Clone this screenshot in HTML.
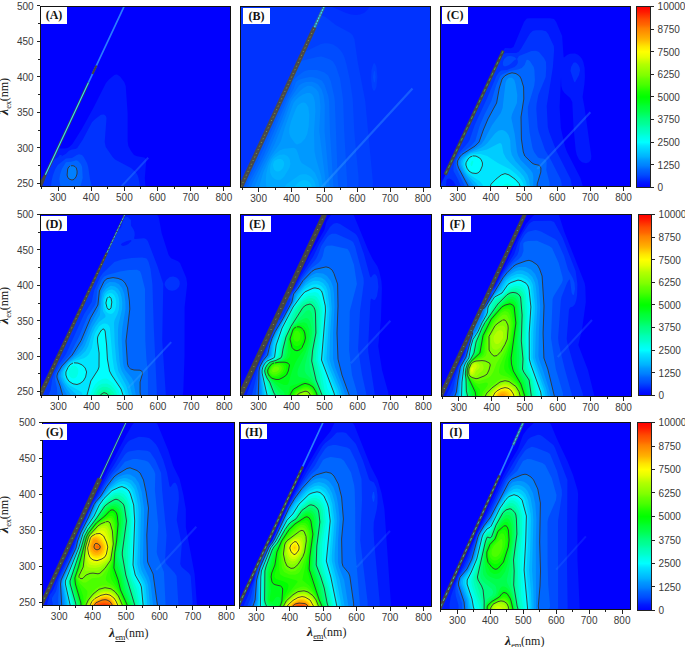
<!DOCTYPE html><html><head><meta charset="utf-8"><style>
*{margin:0;padding:0;box-sizing:border-box}
html,body{width:685px;height:647px;background:#fff;overflow:hidden}
body{position:relative;font-family:"Liberation Sans",sans-serif}
.t{position:absolute;font-size:10px;line-height:10px;color:#3a3a3a;white-space:nowrap}
.ty{position:absolute;font-size:10px;line-height:10px;color:#3a3a3a;white-space:nowrap;text-align:right;width:30px}
.lb{position:absolute;background:#fff;font-family:"Liberation Serif",serif;font-weight:bold;font-size:12px;line-height:16px;text-align:center;color:#111}
.ax{position:absolute;font-family:"Liberation Serif",serif;font-size:12px;line-height:12px;color:#222;white-space:nowrap}
.ax i{font-size:13.5px;font-weight:bold;margin-right:0.3px}
.ax sub{font-size:8.5px;vertical-align:-3px;text-decoration:underline;letter-spacing:-0.3px}
svg{position:absolute;overflow:visible}
</style></head><body>
<svg style="left:40px;top:6px;overflow:hidden" width="191" height="181"><rect x="0" y="0" width="191.0" height="181.0" fill="#0000ff"/><path d="M75 68.7l2-.3 3 2.2 4.2 5.4 1.5 4 1.9 27 0 28 .7 5 2.7 5.1 3 3.8 3 1.4 7 1.1 1.2 .6 1.1 2-1.5 18 .8 10-106 0 1-3 .9-1 .1-2 2.9-5 0-1 1-1 0-1 1-1 0-1 1-1 0-1 1-1 0-1 1-1 0-2 1-1 0-1 1-1 0-1 1-1 0-1 1-1 .1-1 1-1 1.1-3 1-1 .1-2 1.2-1.6 7 .1 2.6-.5 1.7-1 3.1-3 9.6-15.3 11.9-21.7 12.1-23.9 3-3.6 5.4-4.5z" fill="#0019ff"/><path d="M61 108.8l3-.3 1.8 1.5 .7 2-1.8 24 1 5 6.9 10 2.4 2.6 16 8.5 5 4.5 1.5 2.4 1 3 1.1 6 .1 4-97.4 0 3.9-14 1.8-3 0-1 .9-1 .1-1 .9-1 .1-1.9 2-3.1 3-3 3.3-2 1.4-2 1.9 0 .4 2 .1-1 3.9-2.2 3-3 3-1.3 3.5-.5 1.8-1 5.3-8 9.4-17.7 3-3 5.6-4.3z" fill="#0033ff"/><path d="M37 148.9l2-.6 3 .8 1.7 1.9 3.3 6 1.2 4 1.8 12.2 2.3 8.8-41.5 0 .8-7 1.4-6 2.3-6 2.5-4 8.2-6.5 6-.6 4.9-2.9z" fill="#004cff"/><path d="M34 154.9l2-.7 2 .8 2.9 3 1.2 3 .6 11-1.9 7-1.8 3-17.5 0-1.6-4-.5-5 .8-5 1.7-5 4.1-6.7 5-.5 2.8-.8z" fill="#0066ff"/><path d="M31 159.8l2-.1 2 .8 1.3 1.5 .8 3-.1 3-1 3-2 2.4-2 .6-3-1-1.4-2-.5-2 .6-6 1-2 1.4-1z" fill="#0080ff"/><path d="M31 159.8l2-.1 2 .8 1.3 1.5 .8 3-.1 3-1 3-2 2.4-2 .6-3-1-1.4-2-.5-2 .6-6 1-2 1.4-1" fill="none" stroke="#333" stroke-width="0.9"/><line x1="81.7" y1="180.1" x2="108.2" y2="151.7" stroke="#40a8ff" stroke-width="2.0" stroke-opacity="0.28"/><path d="M1.7 181.7 L6.6 169.3 L4.2 168.2 L-2.2 179.9 Z" fill="#444444"/><path d="M6.6 169.3 L49.5 77.0 L47.5 76.0 L4.2 168.2 Z" fill="#444444"/><path d="M49.3 76.8 L85.1 0.2 L83.6 -0.5 L47.8 76.1 Z" fill="#2a7dff"/><path d="M43.5 89.7 L47.4 81.2 L45.6 80.3 L41.6 88.8 Z" fill="#444444"/><path d="M53.4 68.4 L57.4 59.9 L55.6 59.0 L51.6 67.5 Z" fill="#444444"/><line x1="5.4" y1="168.7" x2="48.5" y2="76.5" stroke="#30e0ff" stroke-width="1.1" stroke-dasharray="none"/></svg>
<svg style="left:40px;top:6px" width="191" height="181"><rect x="0.5" y="0.5" width="190" height="180" fill="none" stroke="#111" stroke-width="1"/><path d="M1.5 181v2M18.5 181v4M34.5 181v2M51.5 181v4M67.5 181v2M84.5 181v4M100.5 181v2M117.5 181v4M134.5 181v2M150.5 181v4M167.5 181v2M183.5 181v4M0 177.5h-3M0 159.5h-2M0 141.5h-3M0 124.5h-2M0 106.5h-3M0 88.5h-2M0 70.5h-3M0 53.5h-2M0 35.5h-3M0 17.5h-2M0 -0.5h-3" stroke="#222" stroke-width="1" fill="none"/></svg>
<div class="lb" style="left:41px;top:7px;width:26px;height:17px">(A)</div>
<div class="t" style="left:58px;top:193.4px;width:20px;margin-left:-10px;text-align:center">300</div><div class="t" style="left:91.18px;top:193.4px;width:20px;margin-left:-10px;text-align:center">400</div><div class="t" style="left:124.36px;top:193.4px;width:20px;margin-left:-10px;text-align:center">500</div><div class="t" style="left:157.54px;top:193.4px;width:20px;margin-left:-10px;text-align:center">600</div><div class="t" style="left:190.72px;top:193.4px;width:20px;margin-left:-10px;text-align:center">700</div><div class="t" style="left:223.9px;top:193.4px;width:20px;margin-left:-10px;text-align:center">800</div><div class="ty" style="left:3.6px;top:179.04px">250</div><div class="ty" style="left:3.6px;top:143.56px">300</div><div class="ty" style="left:3.6px;top:108.09px">350</div><div class="ty" style="left:3.6px;top:72.61px">400</div><div class="ty" style="left:3.6px;top:37.13px">450</div><div class="ty" style="left:3.6px;top:1.66px">500</div>
<svg style="left:240px;top:6px;overflow:hidden" width="191" height="182"><rect x="0" y="0" width="191.0" height="182.0" fill="#0000ff"/><path d="M0 -1l192 0 0 184-193 0 0-184z" fill="#000dff"/><path d="M0 -1l192 0 0 184-193 0 0-184z" fill="#0019ff"/><path d="M0 -1l192 0 0 184-193 0 0-184z" fill="#0026ff"/><path d="M0 -1l87.8 0 18.2 8.1 5 1.4 5 .5 4-.4 4-1.7 3.3-2.9 3.6-5 61.1 0 0 184-193 0 0-184z" fill="#0033ff"/><path d="M80 10l3-.1 2.6 1.1 10 8 14.4 7.7 2.5 2.3 1.9 4 3.3 23 7.5 39 7.7 81-.3 7-133.1 0 2.8-5 0-1 1-1 0-1 1-1 0-1 1-1 0-2 3-5 0-1 1-1 0-1 1-1 0-1 .9-1 .1-2 3-5 0-1 .9-1 .1-1 .9-1 .1-1 .9-1 .1-2 1-1 0-1 1-1 0-1 1-1 0-1 2.9-5 .1-2 1-1 0-1 2-3 0-1 2.9-5 .1-2 1-1 0-1 1-1 1-3 2-3 0-2 1-1 0-1 1-1 0-1 1-1 0-1 3-5 0-2 3-5 0-1 1-1 0-1 1-1 0-1 1-1 0-2 1-1 0-1 .9-1 .1-1 1.9-3 0-1 1-1 0-1 1-1 .1-2 2.9-5 0-1 1-1 0-1 1-1 0-1 1-1 .1-2 1-1 0-1 1-1 0-1 1-1 0-1 1-1 1.1-3 1-1 .1-2 1.1-1 0-1 1-1 .1-1 1-1 .1-1 3-5 .1-2 2.9-5 0-1 1-1 0-1 1-1 0-1 1-1 0-2 1-1 0-1 1-1 1.2-3zM134 57.3l1 .3 1.4 3.4 1 10-1 10-1.4 3.3-1 .5-1-.9-1-2.9-.9-8 .4-9 1.8-6z" fill="#0040ff"/><path d="M81 38l4-.8 4 .2 4 1.2 4 2.3 3 2.8 2.4 3.3 1.9 4 1.8 6 3.6 16 3 20 1.6 33 4.3 46 0 6-.7 5-117 0 2-6 2.8-5 .1-2 3.9-7 0-1 1-1 0-1 1-1 0-2 4-7 0-1 1-1 0-1 1-1 0-2 1-1 0-1 1-1 0-1 4-7 0-2 1-1 2-5 3-5 0-2 1-1 2-5 2-3 .1-2 .9-1 .1-1 .9-1 .1-1 3.9-7 .1-2 3.9-7 0-1 1-1 0-1 1-1 0-2 1-1 0-1 1-1 1.9-5 1-1 0-1 1-1 .1-2 2.9-5 0-1 1-1 0-1 1-1 0-1 1-1 .1-2 1-1 0-1 1-1 1.2-3 1-1 .1-1 1-.7 17-8.3zM134 64.9l1 .6 .6 5.5-.6 4.8-1 .7-1.1-5.5 1.1-6z" fill="#004cff"/><path d="M78 50.9l3-.3 3 .6 6 2.4 3 1.8 3 5.1 4 11.9 3.1 21.6 1.1 31 3 53-.2 5-104.3 0 5.3-13.7 39.3-85.3 2.9-9 4.5-8 3.3-8.4 2-2.3 3-1.7 14.3-3.6z" fill="#0059ff"/><path d="M69 63.9l8 .2 7 2.1 4 3.1 2.7 5.7 3.4 15 .7 5 3 80 .9 8-94 0 2.2-6 13.1-26.2 25.6-57.8 5.1-10 2.3-8 3-3.6 6-4.6 3-1.8 3.5-1z" fill="#0066ff"/><path d="M65 72l5-1 3 .2 5 1.5 4 2.1 2.6 4.2 3.7 11 .8 5 .8 30 3.7 58-86.4 0 2.7-7 13.6-26 23.4-55 6.6-12 2.5-7 2.3-2 6.7-2z" fill="#0073ff"/><path d="M66 76l6-.3 3 1 3 1.8 3.4 4.5 2.3 7 1.1 9-.3 26 5.4 58-79.8 0 2.3-6 16.5-33 12.8-30 7.8-20 9.5-14.4 3-2.2 3.9-1.4z" fill="#0080ff"/><path d="M68 79.8l4 .4 4 2.8 2.3 3 1.1 4 1.1 11-1.3 24 7.3 58-72.8 0 7.8-19 13.2-26 9.7-24 6.9-19 2.7-3.8 6-6.3 3.6-2.9 3.5-2z" fill="#008cff"/><path d="M67 86.9l3 .1 2 1.2 1.7 2.8 1.2 5 .5 9-1.4 21 .5 19 1.3 7 5.2 17.4 2.2 13.6-64.7 0 4.6-16 4.6-11 3.3-6.1 7.7-10.9 2.2-4 4.1-14 8.5-24 2.2-3 3.3-2.9 4-2.5 3.8-1.6z" fill="#0099ff"/><path d="M62 96.8l2-.2 2 .8 2.3 3.6 1 8-.6 11-1.5 8-2.2 4.7-4 4.2-4 1.6-2-1.2-4.5-6.3-1.3-4 0-4 1.8-7.4 5-13 2-3.3 3.2-2.3zM52 141.9l2-.1 2 1.2 1.5 3 2.5 8.1 1.7 2.9 9.3 5.7 4 4.4 3.1 6.9 1.8 9-53.3 0-.8-8 .4-7 1.9-8 2.9-6.7 4-5 5-4 4-1.5 7.5-.8z" fill="#00a6ff"/><path d="M40 148.7l4-.3 3.5 1.6 2.2 3 .7 5-1 4-5.4 8.8-3 2.6-3 .6-3-.7-3-2.5-1.7-3.8-.3-4 .8-5 1.8-4 2.4-2.6 4.1-2.4zM60 168.8l3-.6 3 .1 3 1.1 2 1.3 2 2.2 1.7 3.1 1.6 7-33 0 3.4-5 12.9-9z" fill="#00b2ff"/><path d="M38 153l2.8 0 1.9 1 1.2 2 .3 2-.7 3-1.2 2-2.3 2-2 .6-2-.3-2-1.8-1.2-4.5 1.5-4 3.6-2zM64 174l3 .4 2.4 1.6 2 3 .9 4-19.1 0 2.9-4 2.9-2.9 2-1.3 2.9-.8z" fill="#00bfff"/><path d="M64 180.6l1-.2 .7 .6 .6 2-4.3 0 1.4-2z" fill="#00ccff"/><line x1="81.1" y1="181.8" x2="172.5" y2="82.6" stroke="#40a8ff" stroke-width="2.2" stroke-opacity="0.35"/><path d="M2.6 182.7 L76.4 22.1 L72.6 20.4 L-1.6 180.8 Z" fill="#4a4a4a"/><path d="M76.0 21.9 L85.6 0.4 L83.1 -0.7 L73.1 20.6 Z" fill="#3a6a8a"/><line x1="1.2" y1="180.4" x2="74.5" y2="21.3" stroke="#9ccf3c" stroke-width="0.8" stroke-dasharray="0.8 3.2"/><line x1="74.5" y1="21.3" x2="84.4" y2="-0.1" stroke="#30e0ff" stroke-width="1.2" stroke-dasharray="2 1"/></svg>
<svg style="left:240px;top:6px" width="191" height="182"><rect x="0.5" y="0.5" width="190" height="181" fill="none" stroke="#111" stroke-width="1"/><path d="M2.5 182v2M18.5 182v4M35.5 182v2M51.5 182v4M67.5 182v2M84.5 182v4M100.5 182v2M117.5 182v4M133.5 182v2M150.5 182v4M166.5 182v2M183.5 182v4" stroke="#222" stroke-width="1" fill="none"/></svg>
<div class="lb" style="left:242.9px;top:7.7px;width:27px;height:15.9px">(B)</div>
<div class="t" style="left:258.61px;top:194.4px;width:20px;margin-left:-10px;text-align:center">300</div><div class="t" style="left:291.49px;top:194.4px;width:20px;margin-left:-10px;text-align:center">400</div><div class="t" style="left:324.37px;top:194.4px;width:20px;margin-left:-10px;text-align:center">500</div><div class="t" style="left:357.25px;top:194.4px;width:20px;margin-left:-10px;text-align:center">600</div><div class="t" style="left:390.13px;top:194.4px;width:20px;margin-left:-10px;text-align:center">700</div><div class="t" style="left:423.01px;top:194.4px;width:20px;margin-left:-10px;text-align:center">800</div>
<svg style="left:440px;top:6px;overflow:hidden" width="191" height="181"><rect x="0" y="0" width="191.0" height="181.0" fill="#0000ff"/><path d="M87 12.6l3-.4 20 0 4 .9 2.2 2.9 5.9 14 1.5 21 .4 .5 3.1-2.5 2.9-1.3 5-.1 3 1.2 2 1.6 2 2.6 1.3 3 1.3 6 .3 9-.5 7-1.8 13 2 11 6.7 48-.3 3.6-2 2.6-3 1-4-.9-3-2.8-2.2-4.5-1.1-5-2.2-23-1.2-25-2.1-4-5.7-5-2.1-3-1.1-4-.3-9-1.4 30 1.2 21 4.2 18.8 2 5.2 13.4 26 2.9 10-143.9 0 0-2 1-1 0-1 1-1 1-3 1.1-1 0-1 3-5 0-2 1-1 0-1 1-1 .1-1 1-1 0-1 4-7 .1-2 3.9-7 0-1 .9-1 .1-1 .9-1 0-1 1-1 0-2 3-5 0-1 1-1 0-1 1-1 0-1 1-1 0-1 1-1 0-2 1-1 0-1 1-1 0-1 1-1 0-1 1-1 0-1 3-5 0-2 3-5 0-1 1-1 0-1 1-1 0-1 1-1 0-1 1-1 0-2 1-1 0-1 1-1 0-1 1-1 0-1 1-1 0-1 3-5 0-2 3-5 1-3 1-1 0-1 1-1 0-1 1-1 0-2 2-3 0-1 1-1 1-3 3.1-5 .1-2 2.3-3 6 .3 2.5-1.3 10.5-25 2.3-3z" fill="#0019ff"/><path d="M93 24.8l3-.5 6-.1 4 1.1 2.2 2.7 5.6 12 .3 4-1.2 17-6.2 39 1.1 21 1.3 5 7.3 19 14.2 28 1.7 9-115.9 0-1.4-4-1.9-3-2.1-1.7-2-.7-1.9 .4-.6 1-.7 8-6 0 0-2 1-1 0-1 1-1 0-1 1.1-1 0-1 1-1 0-1 1-1 .1-1 1.9-3 .1-1.7 5-7.7 6.7-14.6 3.3-10 2.9-5 .1-1 .9-1 .1-1 .9-1 .1-1 .9-1 .1-2 1-1 0-1 1-1 0-1 1-1 0-1 3.9-7 .1-1.8 3-5.2 0-1 1-1 0-1 .9-1 .1-1 .9-1 .1-1 .9-1 .1-1.6 7-13.4 4.1-10 .9-1 0-1 1.9-3 .1-2 1-1 0-1 1-1 0-1 1-1 2-5 2-1.8 3-1.3 10 .1 2.4-1 2.5-3 9.1-15.4 2.6-2.6zM134 56.4l2 .1 2 2 1.4 2.5 .7 3-1.1 5-4 7.6-1-1-3.5-10.6 .6-4 2.2-4z" fill="#0033ff"/><path d="M92 44.9l4-.1 3 1.3 5 5.8 2 4.1 .2 6-.5 9-7.4 18-1.7 9-.3 5 1.3 18 1.1 5 6.3 18 5.4 9 10.1 20 1 4 .4 5-100.1 0-3.8-8.7-4.5-8.3 0-4 1.2-6 4.3-7.9 8.8-10.1 1.8-3 5.1-15 12.3-26.6 9.4-22.4 2.6-3.8 2-1.6 6-.6 7.6-3 2.1-2 1.1-2 .1-2-.8-2 1.9-3 12.5-5zM67 50.6l2-.5 3 .1 2.4 .8 2.2 2-2.6 1.4-2.4 2.6-2.6 1.9-3 1.3-2 .1-1-1.3-.1-3 1.3-3 2.1-2z" fill="#004cff"/><path d="M87 53.8l1.3 .2 1.7 1.2 3.7 5.8 .7 3 .5 10-.7 6-6.3 21 0 6 1.6 19 3 16 1.6 4 3.9 5.4 2 .9 4 .5 1.7 1.2 1 2-.4 8 3.3 13-.1 2-1.1 3-82.7 0-9-19-1-5 .7-4 4.6-6.7 9.9-7.3 4.4-5 4.3-15 4.7-11 7.1-14 4.9-16 3.9-9 1.8-1.6 8-3.5 8-1.4 3.8-1.5 2.8-3 2-5z" fill="#0066ff"/><path d="M71 66.9l2-.1 3 .8 3.6 2.4 1.6 3 2.1 7 .7 5-.2 8-2.8 18 0 17 .5 6 1.8 12 1.5 4 7.2 7 2 1.1 5 1.2 1 .8 .9 1.9-.1 4-3.6 12-.1 4-67.9 0-10.6-20-1.3-4 .2-3 2.2-4 2.3-2.6 13.1-8.4 4-4 4.2-12 4.7-11.1 8.6-15.9 2.7-15 2.8-9 2.5-3 5.8-3z" fill="#0080ff"/><path d="M69 71.8l3-.1 2.3 2.3 1.2 4 1.8 11-.4 8-4.8 11-.8 4 3.4 16 2.3 18 1.3 4 2.4 4 9.8 10 2.1 3 .7 4-.1 11-60.7 0-6.5-9.5-4.3-7.5-2.5-6-.1-4 1.9-3.5 2.6-2.5 14-8 3.9-3 2.8-4 7.7-14.8 8.8-12.2 1.8-5 2.9-25 1.1-3 2.1-2z" fill="#0099ff"/><path d="M59 124.6l3-.5 2 .5 2.2 1.4 2.3 3 1.7 5 .5 10 1.2 5 3.5 6 9.2 10 2.9 4 1.7 5 .9 8-54.1 0-9-11.2-3.2-4.8-3.2-8 .2-3 1.7-3 6.5-5 11.8-5 3.3-2 3.3-3 7.6-9.6 3.1-2.4z" fill="#00b2ff"/><path d="M58 137.7l2-.6 1 .3 .9 1.6 1.5 8 2.5 5 3.4 4 10.7 10.2 3.9 4.8 2.2 5 1.1 6-47.4 0-3.8-5-7-6.6-3-3.5-2.2-3.9-1.6-5 .8-3.9 2.5-3.1 5.5-3.7 16-3.9 10.5-5.4z" fill="#00ccff"/><path d="M34 147.9l6.4 .1 6.8 2 10.6 7 12.2 6.2 6 4.8 4.7 5 2.3 4 1.2 5-40.1 0-2-4-2.6-3-8.5-5.5-3-2.6-2.1-2.9-1.7-4-.2-3.5 1.7-3.5 3.3-3.2 4.3-1.8z" fill="#00e5ff"/><path d="M33 149.9l3 .2 3.7 1.9 1.6 2 1.2 3-.2 3-2.2 5-2.1 1.9-2 .6-4-.5-3-1.9-2-2.9-1.1-3.2 .1-2.2 2.1-3.8 1.9-1.9 2.6-1.1zM64 167.7l2 0 2 .7 7 4.7 4 4.3 1.8 4.6-30.9 0 .6-3 1.5-2 6-5.7 5.1-3.3z" fill="#00ffff"/><path d="M32 154.8l1.2 .2 .1 1-1.2 4-1.1 .1-.6-2.1 1.3-3zM65 177.9l2-.4 3 .5 3 1.9 1.8 2.1-15.1 0 5-4z" fill="#00ffe5"/><path d="M29.2 182l-10.6-20-1.3-4 .2-3 2.2-4 2.3-2.6 13.1-8.4 4-4 4.2-12 4.7-11.1 8.6-15.9 2.7-15 2.8-9 2.5-3 3.4-2 4-1.2 4 .8 3.6 2.4 1.6 3 2.4 8 .2 12-2.8 18 .4 22 1.9 13 1.5 4 7.2 7 2 1.1 5 1.2 1 .8 .9 1.9-.1 4-3.6 12-.1 4M49.9 182l1.1-3.8 5-5.1 5.2-4.1 3.8-1.4 4 1.3 6 4.2 4 4.3 1.8 4.6M33 149.9l3 .2 3.7 1.9 1.6 2 1.2 3-.2 3-2.2 5-2.1 1.9-2 .6-4-.5-3-1.9-2-2.9-1.1-3.2 .1-2.2 2.1-3.8 1.9-1.9 2.6-1.1" fill="none" stroke="#333" stroke-width="0.9"/><line x1="97.3" y1="163.0" x2="150.4" y2="106.3" stroke="#40a8ff" stroke-width="2.0" stroke-opacity="0.30"/><path d="M6.8 169.5 L64.6 45.2 L61.8 43.9 L3.6 168.0 Z" fill="#444444"/><line x1="5.9" y1="167.3" x2="62.9" y2="45.3" stroke="#3cc85a" stroke-width="0.7" stroke-dasharray="3 3"/></svg>
<svg style="left:440px;top:6px" width="191" height="181"><rect x="0.5" y="0.5" width="190" height="180" fill="none" stroke="#111" stroke-width="1"/><path d="M1.5 181v2M17.5 181v4M34.5 181v2M50.5 181v4M67.5 181v2M84.5 181v4M100.5 181v2M117.5 181v4M133.5 181v2M150.5 181v4M166.5 181v2M183.5 181v4" stroke="#222" stroke-width="1" fill="none"/></svg>
<div class="lb" style="left:442px;top:7.4px;width:26.2px;height:16.2px">(C)</div>
<div class="t" style="left:457.8px;top:193.4px;width:20px;margin-left:-10px;text-align:center">300</div><div class="t" style="left:490.94px;top:193.4px;width:20px;margin-left:-10px;text-align:center">400</div><div class="t" style="left:524.08px;top:193.4px;width:20px;margin-left:-10px;text-align:center">500</div><div class="t" style="left:557.22px;top:193.4px;width:20px;margin-left:-10px;text-align:center">600</div><div class="t" style="left:590.37px;top:193.4px;width:20px;margin-left:-10px;text-align:center">700</div><div class="t" style="left:623.51px;top:193.4px;width:20px;margin-left:-10px;text-align:center">800</div>
<svg style="left:40px;top:214px;overflow:hidden" width="191" height="182"><rect x="0" y="0" width="191.0" height="182.0" fill="#0000ff"/><path d="M85 -.1l2-.6 7 1.1 21 0 2 .6 1 .8 .9 2.2 2.7 15 7 22 2.4 3.2 7 3.1 2 1.8 6.3 14.9 .9 6-2.6 23-.1 49-1.2 35-.8 6-143 0 0-1 1-1 1-3 3-5 0-2 1-1 .1-1 .9-1 .1-1 .9-1 .1-1 4-7 .1-2 3.9-7 0-1 1-1 0-1 .9-1 .1-1 .9-1 .1-2 2.9-5 0-1 1-1 0-1 1-1 0-1 1-1 0-1 1-1 0-1 1-1 0-2 3-5 0-1 1-1 0-1 1-1 0-1 1-1 0-1 1-1 0-2 1-1 1-3 1-1 0-1 1-1 1-3 1-1 0-1 1-1 0-2 1-1 0-1 1-1 0-1 1-1 0-1 1-1 0-1 1-1 0-1 1-1 1-3 1-1 0-2 1-1 0-1 1-1 0-1 1-1 2-5 1-1 0-1 1-1 0-2 3-5 0-1 1-1 0-1 1-1 0-1 1-1 0-1 .9-1 .1-2 2.9-5 0-1 1-1 0-1 1-1 0-1 1-1 0-1 1-1 0-1 1-1 0-2 1-1 0-1 1-1 0-1 1-1 0-1 1-1 0-1 1-1 1.1-3 1-1 .1-2 2.1-3 1.9-5 1.9-3 .1-1 1-1 .3-2z" fill="#0019ff"/><path d="M86 2.7l2 .3 2.9 3 .1 5.7 2.3 3.3 1.2 3 .2 3-.7 3.4 1 .5 9-.7 2 .7 1.8 2.1 9.6 25 5.9 18-1.1 56 3.8 57-126.1 0 2.1-5 .9-1 .1-1 .9-1 .1-1 1-1 0-.9 5-8.7 5-10.4 8.1-20 2.8-5 .1-1 .9-1 .1-1.7 3-5.3 0-1 1-1 0-1 .9-1 .1-1 .9-1 .1-1 .9-1 .1-1.7 3-5.3 0-1 3.9-7 .1-2 1-1 0-1 .9-1 .1-1 .9-1 .1-1 .9-1 .1-1 .9-1 .1-1 1-1 0-1 1-1 6-12.5 5-12.5 2.9-5 0-1 1-1 0-2 3-5 0-1 1-1 0-1 1-1 0-1 .9-1 .1-1 .9-1 0-1 1-1 .1-2 .9-1 .1-1 1-1 0-1 1-1 0-1 1-1 0-1 1-1 1.1-3 4-4.5 2.9-8.5 1.6-2zM86.9 27l-4.6 2-1.1 1-.2 1 2 .9 3-.6 2.3-1.3 3.2-3-.5-1-4 1zM130 62.9l3-.4 3 .8 2 1.4 1.5 2.3 .3 3-.8 2.7-2 2.4-2 1.2-3 .5-3.4-.8-2.4-2-1.6-3 .1-2 1.5-3 3.6-3z" fill="#0033ff"/><path d="M92 44l10-.5 4 .8 1 .8 1.6 2.9 1.9 7 1.9 15 1.4 44 3 63-.1 6-109.2 0 3.2-7 1.4-10 2.2-7 4.2-8 7.6-11 18.1-40 7.5-12 2.6-12 5.9-13 2.8-3.9 11.4-11.1 7.6-2.5 9.7-1.5z" fill="#004cff"/><path d="M90 56l7-.2 3 1.5 1.2 2.7 3.8 15 .3 51 1.1 19 1.5 13 .1 25-90.7 0-.3-9-2-9 .6-5 4.4-8 10.2-12 8.8-17.3 8.7-20.7 7.4-11 1.2-4 .9-11 4.3-10 2.5-3.2 4-2.1 12-3.1 9.2-1.6z" fill="#0066ff"/><path d="M70 63.9l5-.1 7 2.1 3.1 3.1 2.5 5 1.8 13 .4 8-3.8 32 1.5 23 1 3 2.2 2 3.3 1 6 .2 1.7 .8 .7 1 0 2-2.3 8 0 10 .5 5-77.5 0-3-11-3-8-.2-2 .8-3 4.2-7 10.3-11 8.1-13 10.2-24 7.4-13 .6-3 .6-9 .9-3.5 5-9.5 4.4-2z" fill="#0080ff"/><path d="M70 67.9l5 .3 4 2 3.1 3.8 2.2 6 1.1 8 .1 7-3.2 19-.7 10 1.4 25 .8 4 1.3 3 6.7 8 1.5 3 2.8 16-67.9 0-3.2-5.6-5.6-12.4-.6-3 .6-3 1.9-4 2.2-3 3.5-4.1 8.6-7.9 7-10 8.4-20 7-13.3 1.7-5.7 1-10 1.1-4 4.2-6.7 3.6-2.3z" fill="#0099ff"/><path d="M71 71.8l4 .7 3 2.2 2.1 3.3 1.5 5 .7 6-.2 6-3.5 15-.6 6 .1 13 1.4 18 .9 6 1.4 4 7.6 13 3.2 13-59.6 0-6-7.6-4.9-8.4-1.5-5 .6-4 2.2-4 3.9-5 11.3-9 3.6-4 2.6-4 7.6-19 7.5-12 1.8-17 1.3-5 3-4.3 4.1-2.7z" fill="#00b2ff"/><path d="M69 76l3-.5 3 1.3 2.5 3.2 1.3 4 .5 5-.4 6-1.4 5-2.9 6-.6 3 .7 20 1.5 17 2.1 11 8 15 3.1 11-51.5 0-2.1-3-7.8-7.2-3-4-2.5-5.8 .2-5 2.1-4 4.2-5.5 11.3-6.5 5.2-5 2.8-5 3.7-12 3.3-7 3.7-5 6.5-5-.1-2-2-3-.6-2 0-10 1.8-6 1.5-2 2.8-2z" fill="#00ccff"/><path d="M70 78.9l2 .4 2.1 1.7 1.4 3 .7 4-.2 4.3-1 3.9-1.9 2.8-2.1 .9-3-.7-2-1.7-1.3-2.5-.7-4 0-3.4 1-4.6 2-2.8 2.7-1.2zM63 109.8l2-.3 2.2 .5 1.8 1.7 .9 2.3 2.6 30 1.6 11 2.7 7 6.9 12 2.7 9-43.8 0-.2-3-1-2-11.4-6.6-3.3-3.4-2.1-4-.7-3 .3-3 1.4-3 3.4-5.1 4-2.4 11-3.3 3-2 2-2.2 2.9-6 2-11 1.4-4 3.7-6.5 3.4-2.5z" fill="#00e5ff"/><path d="M69 82.8l1 .3 1 1.1 .8 3.8-.8 5.9-1 1.3-1 .3-1-.4-1-1.6-1.1-4.5 1.1-4.4 1.4-1.6zM63 115l1 .1 1.1 1.9 1.5 14 .8 14 2.1 12 2.1 4 9.4 14 2.6 8-37.1 0 4.3-16 7.1-11 1.1-3 .1-14-1.5-11-.1-4 .5-2 2-3.7 1.6-2.3 1.4-1zM34 148.8l4 .3 4.3 1.9 2.9 3 1.4 4-1 5-2.3 4-3.3 2.5-3 1-4-.7-4-2.5-2-3.1-1.1-3.2 0-3 2.1-4.5 2-2.8 3-1.7z" fill="#00ffff"/><path d="M32 152l2-.4 2 .7 1.6 1.7 .7 2-.1 3-1.1 3-1.1 1.5-2 1-2-.2-1.8-1.3-1.2-2-.5-2 .9-4 2.6-3zM63 164.8l3-.2 2 .6 5 3.7 5.3 7.1 2.6 7-31.5 0 3.1-8 2.5-4.4 3-3.2 4.2-2.4z" fill="#00ffe5"/><path d="M62 169.7l5-.2 4 2 4.1 4.5 3.3 7-26.4 0 4-8.5 2.2-2.5 3.1-2z" fill="#00ffcc"/><path d="M63 172.8l4 .1 3 1.6 3.2 3.5 2.5 5-21.3 0 3.6-6.9 2-1.9 2.4-1.2z" fill="#00ffb3"/><path d="M63 175.8l3 0 2.4 1.2 2.6 2.7 1.9 3.3-16.1 0 2.2-4.3 3.5-2.7z" fill="#00ff99"/><path d="M63 178.9l3.1 .1 3.5 4-10.1 0 1.5-2.7 1.7-1.3z" fill="#00ff80"/><path d="M64 182.7l1.2 .3-1.5 0z" fill="#00ff66"/><path d="M23.1 183l-3-11-3-8-.2-2 .8-3 4.2-7 10.3-11 8.8-14.3 9.5-22.7 7.4-13 1.5-14 4.6-9.7 3-2.6 6-1.1 5 .8 4.2 1.6 2.9 3 2.5 5 1.8 13 .4 8-3.8 32 1.5 23 1 3 2.2 2 3.3 1 6 .2 1.7 .8 .7 1 0 2-2.3 8 0 10 .5 5M46.5 183l4.3-16 7.1-11 1.1-3 .1-14-1.5-11-.1-4 .5-2 2-3.7 1.6-2.3 1.4-1 1 .1 1.1 1.9 1.5 14 .8 14 2.1 12 2.1 4 9.4 14 2.6 8M69 82.8l1 .3 1 1.1 .8 3.8-.8 5.9-1 1.3-1 .3-1-.4-1-1.6-1.1-4.5 1.1-4.4 1.4-1.6M34 148.8l4 .3 4.3 1.9 2.9 3 1.4 4-1 5-2.3 4-3.3 2.5-3 1-4-.7-4-2.5-2-3.1-1.1-3.2 0-3 2.1-4.5 2-2.8 3-1.7M59.5 183l1.8-3 2.7-1.4 3 1 2.6 3.4" fill="none" stroke="#333" stroke-width="0.9"/><line x1="88.1" y1="174.1" x2="131.2" y2="128.1" stroke="#40a8ff" stroke-width="2.0" stroke-opacity="0.30"/><path d="M2.2 182.2 L67.9 39.3 L65.8 38.3 L-1.9 180.2 Z" fill="#444444"/><path d="M67.6 39.1 L85.5 0.8 L84.0 0.2 L66.1 38.4 Z" fill="#444444"/><line x1="1.8" y1="177.7" x2="66.9" y2="38.8" stroke="#9acd32" stroke-width="0.7" stroke-dasharray="1 4"/><line x1="66.9" y1="38.8" x2="84.8" y2="0.5" stroke="#30d0ff" stroke-width="0.8" stroke-dasharray="3 1"/></svg>
<svg style="left:40px;top:214px" width="191" height="182"><rect x="0.5" y="0.5" width="190" height="181" fill="none" stroke="#111" stroke-width="1"/><path d="M1.5 182v2M18.5 182v4M35.5 182v2M51.5 182v4M68.5 182v2M84.5 182v4M101.5 182v2M117.5 182v4M134.5 182v2M151.5 182v4M167.5 182v2M184.5 182v4M0 177.5h-3M0 159.5h-2M0 142.5h-3M0 124.5h-2M0 106.5h-3M0 89.5h-2M0 71.5h-3M0 53.5h-2M0 35.5h-3M0 18.5h-2M0 0.5h-3" stroke="#222" stroke-width="1" fill="none"/></svg>
<div class="lb" style="left:40.9px;top:216px;width:26.3px;height:15.4px">(D)</div>
<div class="t" style="left:58.41px;top:402.4px;width:20px;margin-left:-10px;text-align:center">300</div><div class="t" style="left:91.59px;top:402.4px;width:20px;margin-left:-10px;text-align:center">400</div><div class="t" style="left:124.77px;top:402.4px;width:20px;margin-left:-10px;text-align:center">500</div><div class="t" style="left:157.94px;top:402.4px;width:20px;margin-left:-10px;text-align:center">600</div><div class="t" style="left:191.12px;top:402.4px;width:20px;margin-left:-10px;text-align:center">700</div><div class="t" style="left:224.3px;top:402.4px;width:20px;margin-left:-10px;text-align:center">800</div><div class="ty" style="left:3.6px;top:387.48px">250</div><div class="ty" style="left:3.6px;top:352.04px">300</div><div class="ty" style="left:3.6px;top:316.6px">350</div><div class="ty" style="left:3.6px;top:281.17px">400</div><div class="ty" style="left:3.6px;top:245.73px">450</div><div class="ty" style="left:3.6px;top:210.3px">500</div>
<svg style="left:240px;top:214px;overflow:hidden" width="192" height="182"><rect x="0" y="0" width="192.0" height="182.0" fill="#0000ff"/><path d="M92 .5l19-.2 2 .5 1 .9 14 34.1 4.5 9.2 4.7 7 2 5 2.2 10 .5 7-1 32-2.7 26 3.8 24 6.1 22 .7 5-148.8 0 1.9-3 .1-1.4 1.4-2.6 11.6-20 11-23.6 5.3-13.4 1.2-7 1.8-3 0-2 1-1-.1-1 2-3 0-1 1-1 0-1 1-1 0-1 1-1 0-1 1-1 0-2 1-1 0-1 1-1 0-1 1-1 0-1 1-1 0-1 1.1-1 0-1 1.1-1 .1-1 4.5-3.8 2-3.1 14-28.4 16.3-28.7 2.1-8 2.6-4.6 2.1-2.4z" fill="#0019ff"/><path d="M94 9.6l3-.5 3 1 15 9.4 1.5 1.5 1.7 3 5.7 16 6.1 22.5 1 1 2-2.8 2-.8 1.7 2.1 .9 3 .8 8-1.4 9.3-2 3.4-1 .2-3-1.5-.6 2.6-2.3 47 .2 4 6.9 45-129.6 0 11.8-30 6.4-13 5.7-14 3.6-10 .2-4 .4-2 .9-1-.1-2 1-1 0-1 2-3-.1-1 1.1-1-.1-1 1.1-1-.1-1 1-1 0-1 1.1-1-.1-2 1-1 0-1 1-1 0-1 1.1-1 0-1 1-1 0-1 1-1 .1-1 1.2-1 .2-1 2-.4 4.1-4.6 6.9-12.9 12.5-20.1 5.8-12 10.7-16.9 3.1-3.1z" fill="#0033ff"/><path d="M92 19.8l4 0 15 6.7 2.1 1.5 1.9 4.2 8.5 31.8 .3 5-3.8 28-1.9 38 3.8 25 4.2 19 .4 4-115.1 0 3.6-14.1 2.9-14.9 2.7-6 4.5-8 11.1-30-1.2-.2-.2-2.8 1-1-.1-1 2-3-.1-1 1.1-1 0-1 1-1-.1-1 1.1-1-.1-1 1.1-1-.1-2 1-1 0-1 1-1 0-1 1.1-1 0-1 1-1 0-1 1.1-1 .1-1 1.1-.3 1 .8 1-.1 6.5-9.4 5.5-9.8 7-9.8 7-8.4 2-4 3.3-9 5.7-8.8 2-2 2.4-1.2zM49.4 84l-3.4 4.8-6 12.9-1.4 4.3 .4 .6 2-1.8 7.2-12.8 2.2-6-.4-2.3zM37.7 107l-1.2 2 .5 .6 1.6-2.6-.6-.4z" fill="#004cff"/><path d="M87 31.8l5-.4 15.5 3.6 2 3 4.5 13 2.9 19-7.1 27-.7 39 2.9 25 5.2 18 .6 4-102.4 0 3.3-29 3.3-7.1 4.2-5.9 3.8-13 4.6-11 7.5-12 7-13 2.6-6 0-4 .7-2 4.6-6 5-8.4 7-8.6 3-3.2 6.4-4.8 2.6-3 1.8-4 1.5-7 .7-1.6 1.6-1.4zM46 84l.4 0-.4 1.5 0-1.5zM45 85.9l.8 .1-1.3 4-4.5 8.9-.2-1.9 2.1-3-.1-2 1-1 0-1 1.1-1-.1-1 1.1-1 0-1zM39 98.9l.9 .1-.9 1.9-.1-1.9zM38 100.9l.9 .1-1.9 3.3-.1-1.3 1-1 0-1z" fill="#0066ff"/><path d="M86 52.9l3 .8 3.1 2.3 1.9 3.7 3.6 10.3 .4 22-1 27 1 26.1 4 16 7.9 21.9-91.6 0 .7-26 .7-4 3.3-6.3 4.6-5.7 2-9 2.4-7.6 3-6.5 8-13.2 8.9-16.7 1.7-8 4.7-6 4.7-7.4 9-9.3 3-1.9 10.2-2.4z" fill="#0080ff"/><path d="M77 58.9l6 .7 4 2.4 3.8 5 2.3 6 .9 7 .5 13-1.5 26 0 25.8 2 8.1 7.7 20.1 3.2 10-85.4 0-.6-28 .9-3 2.2-4.1 6.1-6.9 1.9-11 2-5.9 2.3-5.1 17.4-31 2.3-8 11-14.2 6-4.9 4.4-1.9z" fill="#0099ff"/><path d="M76 62.9l5 .6 4 2.5 3.2 4 2.1 6 1.5 19-1.7 25-.7 25 1.9 7 8.6 21 3 10-80.5 0-2-25 .1-3 1-3 3-5 4.8-4 1.4-2 .9-9 1.4-5.8 3-6.5 17.6-31.7 3.1-8 9.3-11.6 5-3.7 4.3-1.7z" fill="#00b2ff"/><path d="M74 66.8l5 .1 4 2.1 3 3.7 1.6 4.3 2 18-3.2 50 2.6 8.6 9.1 21.4 2.2 8-76.1 0-3.2-25 .1-3 1-3 3.3-5 6.5-5 1.1-11 1-4.1 8-16.7 12.5-22.2 3.5-7.2 7-8.7 4-3.1 4.1-2z" fill="#00ccff"/><path d="M72 70.8l5-.6 4 1.6 2.9 3.2 1.4 4 2.2 17-3.7 50 3.2 9 9 21.3 1.7 6.7-71.8 0-4.3-24-.1-3 .8-3 3.7-5.8 2-1.5 4-2 1.5-1.7 .6-9 1.2-5 6.7-16.2 10.8-19.8 10.2-15.3 3-2.5 5.6-3.2z" fill="#00e5ff"/><path d="M74 74l5 .8 2.5 2.2 1.1 3 2.7 12 .2 5-4 49 12.5 33 1.1 4-67.6 0-5.4-24 0-3 .8-3 1.6-3 2.5-2.9 6.8-3.1 .8-1 1.6-12 5.9-17 10.9-20.9 11-14.5 2-1.4 7.8-3.2z" fill="#00ffff"/><path d="M70 78.9l5-.8 3 1 2.5 3.9 2.7 9 .4 5-1.2 20-2.7 24-.2 5 5.2 16 3 13 4.1 8-62.8 0-6.3-24-.1-3 .8-3 3.6-5.1 3-1.9 4-1 1.9-2 1.7-11 6.4-19.8 10-19.1 10-11.5 2-1.4 3.7-1.2z" fill="#00ffe5"/><path d="M69 81.7l5-.2 2.7 1.5 2.3 3.3 2.3 6.7 .5 5-1 19-2.9 22-.2 7 4.3 15 2.3 14 1.6 4 2.8 4-58.1 0-7.3-24 .3-5 1.5-3 2.6-3 2.3-1.4 5-1.4 2.1-2.2 .9-2 1.6-10 6.4-19.4 5-11.1 3-5.5 4-5.1 6-5.7 4-2.2z" fill="#00ffcc"/><path d="M67 84.8l4-.7 2 .3 2 1.1 2.6 3.5 1.8 5 .5 5-.7 19-2.8 18-.6 9 3.6 15 2.4 14 2.2 5.8 2.2 3.2-53.9 0-2-5-2.5-9-4-10-.2-2 .6-3 1.8-3.3 2.5-2.7 2.5-1.3 4-.9 2.5-1.8 1.5-2 1.3-8 3.4-11 4.4-10 3.9-11.3 3-5.7 3-4 5-4.7 3.6-2.3z" fill="#00ffb3"/><path d="M69 86.9l3 .2 2 1.4 2.3 3.5 1.3 4 0 22-3.1 18-.6 10 5.2 24 2.9 8.9 2.3 4.1-50.1 0-2.2-4.2-3.1-9.8-2.6-5-1.9-5-.3-2 .7-3 1.6-3 2.6-2.7 2-1.1 4.9-1.2 4.1-3 1.8-9 3.5-12 6.7-14 4-9.8 2.8-4.2 2.8-3 3.4-2.5 3.3-1.5z" fill="#00ff99"/><path d="M67 90.7l3-.7 2 1 2.2 3 1.1 3 .6 21-3.4 19-.8 10 4.3 19 6.8 17-46.5 0-2.9-5-3.7-10-3.2-5-1.7-5 .2-3 2.1-4 2.9-2.8 6-1.8 5-2.5 .9-1.9 3.8-18 2-5 3.5-7 9.9-16 2.3-3 2.8-2z" fill="#00ff80"/><path d="M67 96.4l2-.3 1 .4 1.8 2.5 1.2 6.2 1 10.2-.3 5.6-4.5 24 .7 10 1.8 6 5.3 10.8 4.6 11.2-42.8 0-3.8-6.1-4.2-8.9-3.6-5-1.9-5 .3-3 1.4-3 3-3.3 11-3.4 1.4-1.3 1.2-3 3.1-17 4.3-10 2-3 13.1-14z" fill="#00ff66"/><path d="M66 103.9l2 .5 2 2.9 1.5 5.7 .4 6-1.3 9-5.6 23-.3 6 1.5 3 4.8 5.1 4.4 5.9 5.2 12-39 0-1.6-3.6-7.2-10.4-5-6-1.9-5 .3-3 1.5-3 2.7-3 1.6-.8 9.6-2.2 2.2-2 1.8-5 2.2-16 3.9-9 1.4-2 4.9-4 4-2.6 3.6-1.4z" fill="#00ff4d"/><path d="M60 108.9l4-.6 2 .7 1.1 1 2.1 5 .4 7-.9 6-2.7 9.4-7.9 17.6-.6 3 .1 3 1.4 2.1 6 1.2 3 1.3 5 4.2 3 4.1 3.6 9.1-35.2 0 .1-3-.6-2-14.9-14.4-2.3-4.6-.3-2 .6-2.6 2.1-3.4 1.9-1.9 7-1.9 4-.5 2.6-1.7 1.7-2 1.4-4 .4-13 1.2-5 3.7-7.8 3-2.4 3.7-1.8z" fill="#00ff33"/><path d="M60 110.9l3.8 1.1 2.5 3 1.1 6-.4 6-3 8.8-6.6 9.2-2.4 4.4-3 7.6-3.8 13-1.2 1.1-3-.1-10-4.5-4-2.8-2.4-3.7-.6-2 .1-2 2-4 2.9-2.9 11.6-2.1 4.1-2 1.8-2 1-4-1.5-12 .4-4 3.6-8.7 3-2.4 3.2-.9zM62 167.8l3-.6 2 .4 6 3.8 3 4.5 2.7 7.1-31.8 0 2-5 1-5 .9-1 6.2-1.9 4.7-2.1z" fill="#00ff19"/><path d="M57 112.8l2 0 2 .7 2.6 2.5 1.2 3 .6 5-.9 4-2.5 5.6-2 2.1-3 1.1-3-1-2-2.4-2-8.4 2.8-9 1.2-1.7 2.2-1.3zM35 148.9l4-.7 6 0 3 .9 1.5 1.9-1.2 6-1.8 4-3.5 2.5-4 2-3 0-4-1.2-2.6-2.3-1.6-3-.1-3 1.3-2.7 2.6-3.3 2.4-1zM63 170l2-.6 2 .2 6 3.3 3 5.1 1.8 5-28.8 0 3.1-6 1.5-2 9.3-5z" fill="#00ff00"/><path d="M55 114.9l3-.5 2 1.1 2 2.5 1 3 0 4-1 2.8-2 2.9-2 1.2-2 .1-2-1.1-2.5-4.9 0-3 1.3-5 2.1-3zM38 148.9l5 .4 2.5 1.7 .8 2-.7 4-2 3-4.6 3.1-3 .7-3-.3-2-1-2-2.3-.8-2.2 .2-2 3.6-5.5 5.3-1.5zM63 171.8l2-.6 2 .1 5 2.3 2.4 3.4 2.4 6-26.1 0 2.3-4.4 2-2.4 7.6-4.2z" fill="#1aff00"/><path d="M55 116.9l2-.3 1.2 .4 1.7 2 .6 2-.5 4.2-1 1.5-2 1.1-2.2-.8-1.6-3 .4-4 1.3-3zM36 149.9l4-.1 2 .7 1.5 1.5 .4 3-1.3 3-2 2-3.6 2-3 .3-2-.5-2-1.5-1-3.3 3-5.4 3.1-1.6zM65 172.8l3 .3 3.6 1.9 2.4 3.5 1.6 4.5-23.5 0 1.9-3.6 2-2.3 4-2.4 4.3-1.7z" fill="#33ff00"/><path d="M35 151l3-.2 2 .5 1.6 1.7 .2 2-.9 2-2.1 2-2.8 1.4-3 .1-2.5-1.5-.5-2 2-3.9 2.9-2.1zM63 174.8l4-.6 3 1.2 2.3 2.6 2.1 5-21.1 0 1.6-3 2-2 5.5-3z" fill="#4cff00"/><path d="M35 152.6l3 .1 1.2 1.3-.4 2-1.8 1.5-3 .7-1.2-.2-.8-.9 .4-2.1 1.7-2zM64 175.9l3-.2 2 .8 2.2 2.5 1.8 4-18.5 0 1.1-2 1.9-2 6-3z" fill="#66ff00"/><path d="M62 177.9l3-.7 3 .6 2 2.2 1.4 3-15.5 0 2.1-2.8 3.7-2.2z" fill="#80ff00"/><path d="M64 178.9l3 .6 2.6 3.5-12.1 0 2.5-2.6 3.2-1.4z" fill="#99ff00"/><path d="M63 180.8l2.4 .2 2 2-7.7 0 2.7-2z" fill="#b3ff00"/><path d="M18.3 183l.7-26 .7-4 3.3-6.3 4.6-5.7 2-9 2.4-7.6 3-6.5 8-13.2 8.9-16.7 1.7-8 4.7-6 4.7-7.4 9-9.3 3-1.9 11-2.5 3 .8 3.1 2.3 1.9 3.7 3.6 10.3 .4 22-1 27 1 26.1 4 16 7.9 21.9M27.5 183l-5.4-24 0-3 .8-3 1.6-3 2.5-2.9 6.8-3.1 .8-1 1.6-12 5.9-17 11-21 7.9-10.8 3.7-4.2 8.3-3.8 2-.3 4 .9 2.5 2.2 1.1 3 2.7 12 .2 5-4 49 12.5 33 1.1 4M36.3 183l-2.4-4-4.2-11-2.7-4-1.7-4-.6-3 .7-3 1.7-3 2.9-2.8 6-1.8 5-2.5 .9-1.9 1.1-7 3-12 5-10.6 12-19 3-2.3 4-1.1 2 1 2 2.6 1 2.4 .5 4 .4 19-3.4 18-.8 10 4.3 19 6.8 17M49 183l3.1-6 1.5-2 8.4-4.6 3-1 4 1 4.1 2.6 2.9 5 1.8 5M57 112.8l2 0 2 .7 2.6 2.5 1.2 3 .6 5-.9 4-2.5 5.6-2 2.1-3 1.1-3-1-2-2.4-2-8.4 2.8-9 1.2-1.7 2.2-1.3M35 148.9l4-.7 6 0 3 .9 1.5 1.9-1.2 6-1.8 4-3.5 2.5-4 2-3 0-4-1.2-2.6-2.3-1.6-3-.1-3 1.3-2.7 2.6-3.3 2.4-1M55.9 183l1.2-2 2.6-2 5.3-1.8 2 .2 2 1.3 2.4 4.3" fill="none" stroke="#333" stroke-width="0.9"/><line x1="110.9" y1="149.3" x2="150.4" y2="106.8" stroke="#40a8ff" stroke-width="2.0" stroke-opacity="0.20"/><path d="M2.9 182.4 L86.8 1.6 L82.2 -0.6 L-2.0 180.1 Z" fill="#444444"/><line x1="1.5" y1="179.1" x2="83.9" y2="1.9" stroke="#a8d040" stroke-width="0.8" stroke-dasharray="0.8 5"/></svg>
<svg style="left:240px;top:214px" width="192" height="182"><rect x="0.5" y="0.5" width="191" height="181" fill="none" stroke="#111" stroke-width="1"/><path d="M2.5 182v2M18.5 182v4M35.5 182v2M51.5 182v4M68.5 182v2M84.5 182v4M100.5 182v2M117.5 182v4M133.5 182v2M150.5 182v4M166.5 182v2M183.5 182v4" stroke="#222" stroke-width="1" fill="none"/></svg>
<div class="lb" style="left:243.8px;top:216px;width:27px;height:15.5px">(E)</div>
<div class="t" style="left:258.59px;top:402.4px;width:20px;margin-left:-10px;text-align:center">300</div><div class="t" style="left:291.55px;top:402.4px;width:20px;margin-left:-10px;text-align:center">400</div><div class="t" style="left:324.51px;top:402.4px;width:20px;margin-left:-10px;text-align:center">500</div><div class="t" style="left:357.47px;top:402.4px;width:20px;margin-left:-10px;text-align:center">600</div><div class="t" style="left:390.44px;top:402.4px;width:20px;margin-left:-10px;text-align:center">700</div><div class="t" style="left:423.4px;top:402.4px;width:20px;margin-left:-10px;text-align:center">800</div>
<svg style="left:441px;top:214px;overflow:hidden" width="191" height="183"><rect x="0" y="0" width="191.0" height="183.0" fill="#0000ff"/><path d="M96 -.2l19 0 2 .5 1 .9 5 15.8 20.6 52 .7 4 .5 15-3.7 27-3.8 16 9.7 25.3 6.8 27.7-153.6 0 2.9-7 9.9-18 8.3-17 1.7-5-1-1.1-.6-1.9 1.9-3 0-1 1.1-1-.1-1 1.1-1-.1-1 1.1-1 0-1 1-1-.1-2 1-1 0-1 1.9-3 0-1 .9-1 0-1 1.1-1 0-1 1-1-.1-2 2.1-3 0-1 3-5 0-1 1-1 0-1 1-1 0-2 1.1-1 0-1 2.1-3-.1-1 1.1-1-.1-1 1.1-1-.1-1 1-1-.1-2 1.1-1 0-1 2.6-4 2.1-.2 2-2.6 16.4-32.2 1.7-5 2.5-5 10.4-19.1 7-8 3-1.9z" fill="#0019ff"/><path d="M93 6.9l17-.1 3.1 1.2 8.6 16 12.9 33 1.8 13-.3 11-.8 5-1.3 3.9-2 2.6-3 1-1 2.2-2.3 29.3 .7 4 6.6 23.5 8.9 27.5 .6 4-138.5 0 5-10.3 8.2-21.7 4.9-9 1.9-4.7 1-4.3-3 .3 .7-1.3-.1-1 1-1 0-1 1.1-1 0-1 1.1-1-.1-1 1.1-1-.1-1 1.2-1-.2-2 .9-1-.1-1 1.8-3 0-1 1-1 0-1 1-1 0-1 1-1 0-2 2-3 0-1 1-1 1-3 1.1-1 0-1 1-1 0-1 1-1 .1-2 2.3-3-.1-1 1-1-.1-1 1.1-1-.1-1 1.2-1-.2-1 1-1-.1-2 1-1 0-1 1.2-1 .3-1.2 3-.7 2-2.1 7-13.5 12.3-19.5 3.9-12 4.8-9 5.9-9 2.1-1.8 2.5-1.2zM47 84l-1 2.3 1-.4 0-1.9zM26 130l0-.1zM25 133l0 .7 0-.7z" fill="#0033ff"/><path d="M95 16l5 1.4 14 7.5 2.3 2.1 6.7 14.7 4 13.7 5 9.2 1.5 4.4 .5 6-1 5.4-1 .8-1.3-2.2-1.7-13.4-1 .2-2 3.1-5.5 14.1-.7 4-2.7 37 .5 5 5.9 25 7.2 26 .6 4-123.5 0 4.2-7.8 2.2-11.2 3.5-12 5.9-11 5.4-16.4 .5-3.6-.7-3 1.7-3 0-1 .9-1 0-1 1.1-1 0-1 1-1-.1-2 2.1-3 0-1 1-1 1-3 1-1 0-1 1.1-1 0-1 1-1 .1-2 1.2-1 .1-1.1 1 1 1-.5 3-4.1 3.1-5.3 .5-4 3.4-3.5 8-14.6 8-11.2 6.4-7.7 1.5-4 1.1-8 5-8.6 3-2.6 7.3-1.8zM48 77.8l1-.6 .5 .8-.8 2-1.7 2.2-.3-2.2 1.1-1 0-1zM46 82.9l0 .5-.1-.4zM45 84.9l0 .5-.1-.4zM44 86.9l0 .5-.1-.4zM28 121l.4 0-.4 0zM24 129.8l.5 .2-.5 1.4-.2-1.4zM23 131.8l.7 .2-.7 .8-.2-.8z" fill="#004cff"/><path d="M88 27l8-.2 12.2 5.2 2.8 2 6.7 15 3.8 14 .3 3-.8 2.6-8.2 13.4-1.2 3-1.6 39 4.8 31 7.2 24.6 .1 4.4-111.3 0 3.2-6.7 1.6-11.3 2.9-13 6-11 5.5-18.2 .3-3.8-1-1 .5-2 1.8-3 0-1 1-1 0-1 1-1 0-2 2-3 .1-1 .9-1 1.1-3 1-1 0-1 1.1-1 0-1 1-1 .2-2 2 .3 1-.7 3-4.4 3.2-5.2 2.2-5 2.2-3 8.4-14.6 9-10.8 5.9-4.6 2.8-3 1.8-5-.3-7 .3-1 1.5-1.3 3.4-.7zM47 79.9l.4 .1-.4 .7-.1-.7z" fill="#0066ff"/><path d="M85 46.9l4-.4 7 4.1 1.7 2.4 3.2 8 2.1 31-.9 27 .8 25 3.9 11 7 29-100.7 0 2.3-6 1.5-12 2.4-13 5.7-10 6.4-23-.3-2-1.1-1 1.7-3 0-1 1.1-1 0-1 1-1-.1-2 2.1-3 0-1 1-1 1-3 1.1-1 1.1-3 2-.8 2.4-2.2 17.6-29.2 3-4 9-8.7 10.7-4.1z" fill="#0080ff"/><path d="M78 52.9l6.7 .1 5.3 2.6 4.1 4.4 2.6 6 1.1 7 1.4 20-1.3 24-.5 25 .8 4 3.4 9 5.7 18 2.8 11-95.2 0 1.7-6 1.3-12 2.2-13 5.2-9 2.9-12 3.3-10 1.5-2.9 3-3.9 3.7-9.2 2-3 1.5-7 20.8-33 9-8 4.4-2zM38 100.3l.5 .7 0 2-1.5 2.3-1.4 4.7-3.6 5.9-1-.1 .9-2.8 2-3 0-2 2.1-3 1-3 1-1z" fill="#0099ff"/><path d="M76 56.7l3-.4 3 .3 5 2.1 4.4 4.3 2.7 6 1 6 1.3 18-1.6 25-.7 25 1 4 10.2 28 2 9-90.8 0 1-5 1.2-13 2.1-13 5.3-9 2.5-12 3.4-9.9 4-5.5 6.6-13.6 2-8 5.1-9 3.3-4.9 4.4-5.1 4.6-7.9 3-4 5-4.2 5.1-2.9z" fill="#00b2ff"/><path d="M76 59.9l5 .1 5 2.3 3.7 3.7 2.2 5 2.2 22-1.8 25-.5 26 11.5 32 1.7 8-87.1 0 1.5-17 2.1-14 1.9-4 3.3-5 2.3-11.8 2.7-8.2 4.6-7 6.7-13.4 1.8-4.6 .6-4 1.1-3 6.5-10 6.4-6 5.6-9.4 5-4 5.8-2.6z" fill="#00ccff"/><path d="M77 62.9l4 .6 5 2.7 2.4 2.8 1.4 4 2.1 20-1.8 26-.2 26 11.6 32 1.2 7-83.5 0 1.1-17 2.2-15 4.8-8 2-11 2.7-8.8 4.3-6.2 7.6-15 1.7-4 1.4-7 6-9.2 7.8-5.8 5.2-8.6 5-3.3 5.6-2.1z" fill="#00e5ff"/><path d="M74 67l4-.9 6 2.5 2.5 2.4 1.4 4 2 18-1.7 26 .1 26 1.3 5 10.1 28 .9 6-80.1 0 .4-15 1.7-15 1.9-5 3.4-5 1.9-11 2.4-8 4.6-7 4.2-9.1 4.5-7.9 1.1-3 .5-5 3.9-6.6 3-3.8 7-3.6 6.5-9 6.4-3z" fill="#00ffff"/><path d="M73 69.9l5-.6 4 1.5 2.4 2.2 1.9 5 1.5 15-1.3 27 .5 26 1.7 7 4.5 11 3.1 10 2.1 10-76.7 0 0-14 1.5-16 1.4-4 4.2-7 1.7-10 2.2-8 4.3-6.4 4.5-9.6 4.7-8 1.2-3 .5-5 3.1-5.7 3.8-4.3 6.8-3 6.4-7.7 4.8-2.3z" fill="#00ffe5"/><path d="M74 72l4 .1 3 1.4 2.2 2.5 1.7 5 .9 16-.9 29 1 21 1.2 7 5.6 13 3.5 17-73.2 0-.6-9 1.1-20 2-6 3.8-6 3.7-17.3 3-4.3 6-12.4 5.4-9 1-3 .5-4 2.1-4.6 4-4.4 5-1.8 2-1.3 7-7.1 4.9-1.8z" fill="#00ffcc"/><path d="M71 74.8l4-.7 4 1.2 2.7 2.7 1.5 4 .9 18-.7 27 1.6 25.6 .9 3.4 5.2 10 3 18-69.8 0-1-8 .5-20 1.7-6 3.4-5 1.7-4 2.6-14 3.8-6.3 5-10.9 6.7-10.8 3.2-10 3.1-3.2 6-3 5-4.9 4.5-2.9z" fill="#00ffb3"/><path d="M70 77l4-.7 3 .8 3 2.3 1.5 3.6 1.1 18-.7 26 1.4 18 0 9 .9 3 4.1 6 1.4 3 2.6 18-66.7 0-1.3-7-.1-21 2.2-7 3-4 2.3-5 2.3-12.3 8-16.9 7.5-11.8 4.5-8.8 12-10.9 4-2.3z" fill="#00ff99"/><path d="M70 78.7l3-.3 3 .9 2.2 1.7 1.5 3 1.4 17-.8 26 1.7 18-.5 10 1.2 3 5.4 8 2.5 18-63.6 0-1.5-6-.5-13-.7-5 .5-5 1.5-5 6.3-10 2.5-12 7.9-17.9 11-16.5 2.9-3.6 9.1-9.2 3.1-1.8z" fill="#00ff80"/><path d="M69 80.8l3-.3 3 1 2 1.8 1.2 3.7 1.5 15-1 25 1.6 18-.6 10 1 3 4.3 6 1.5 3 1.3 11 1.3 6-60.6 0-1.7-6-2.1-18 .4-5 1.5-5 7.4-11 2.9-13 4.1-10.5 2.7-5.5 7.3-10.6 6.6-8.4 8.4-8.5 2.4-1.5z" fill="#00ff66"/><path d="M69 82.9l3-.1 3 1.8 1.4 2.4 1 4 1.1 16-1.4 21 1.2 16-.5 10 1.2 4.3 5.3 8.7 1.5 9 2 8-57.7 0-2.1-7.3-1.8-11.7-1.1-4 .2-5 1.7-6 8.5-12 2.7-13 5.8-14.2 6-8.9 8-9.9 8-7.4 2.7-1.6z" fill="#00ff4d"/><path d="M67 86l3-1 3 1 2 2.4 1.2 3.6 1.1 17-1.9 20 .4 24 1.3 5 5.5 10 4 16-54.8 0-6.4-23 .2-5 1.7-6 9.4-12 3.3-16 5-11.4 5-7.6 8.2-10 8.7-7z" fill="#00ff33"/><path d="M68 87.6l3 .1 2 1.3 1.7 3 .5 3 .9 15-2.6 23-.5 13 .8 8 1.8 5 5.4 9.8 4.5 15.2-52.1 0-1.1-5-6.5-18 .1-5 1.4-5 1.7-3 8.5-9 1-3 2.7-15 3.8-8.4 4-7 11-13.2 7.1-4.4z" fill="#00ff19"/><path d="M68 89.8l3 .6 2.2 2.6 1.6 15-.1 4-4.6 32 .5 7 1.7 6 7.6 13 4.5 14-49.3 0-.9-6-8-17 0-5 1.4-5 2.4-3.6 8.9-8.4 3.1-17.3 8.3-16.7 10.5-12 2.2-1.5 4.2-1.5z" fill="#00ff00"/><path d="M64 92.7l4-.5 2 .7 1 1.1 1 3 1.6 12-2.3 17-4 19 .1 8 2.3 5 8.8 12 2.8 7 2.1 7-46.6 0 .1-4-.6-3-5.3-7.7-4.5-8.3-.2-3 .7-4 1.4-4 1.5-2 3.1-2.9 5.8-4.1 1.5-2 2.7-17 7.8-16 8.2-9.8 4.1-3.2z" fill="#1aff00"/><path d="M63 94.9l4-.3 2.2 1.4 1.7 5 1.3 9-2.1 16-6.3 22-.6 4 .1 3 1.5 3 7.2 6.1 5.1 5.9 3.3 7 2.1 7-44 0 .7-6-.4-3-6.8-6.5-4.7-6.5-.7-3 .7-5 1.5-4 1.5-2 2.7-2.3 6.4-3.7 1.9-2 1-3 1.5-14 1.1-3 7.8-15 6.3-7.1 3.7-2.9z" fill="#33ff00"/><path d="M64 96.9l3 1 1.4 2.1 1.9 7 .3 6-2 14-3.6 10.4-5.8 13.6-1.2 5 .1 3 1.9 2 6 1.7 3 1.5 6 5.2 2 2.4 2 3.9 2.5 8.3-41.4 0 1.9-6.3 4.3-5.7 .7-2.1-.5-.9-1.5-.4-7 1.3-3-1-2-1.3-4-3.9-1.7-2.7-.3-3 .6-4 1.4-3.7 2-2.5 2-1.5 7.3-3.3 2.3-2 1.1-3 1.2-14 1.2-4 7.9-14.5 6-6.4 3.8-2.1z" fill="#4cff00"/><path d="M62 100.7l2-.3 2 1.2 1.7 3.4 1.3 5-1.1 14-1.9 6.1-4 8.8-6.3 10.1-3.5 9-2.5 4-2.8 2-6.9 2.5-3 .6-2-.3-5-3-2.3-2.8-.2-5 1.5-4.9 1.3-2.1 2.7-2.1 9-2.9 2.7-2 1-3 .4-14 .8-4 7.1-12.5 4.9-5.5 2.5-2zM61 164.8l3 0 4 .9 7 5.4 3.2 4.9 2.4 8-38.9 0 1.4-4 3.1-4 10.8-9.6 3.3-1.4z" fill="#66ff00"/><path d="M62 105.9l2 .2 1 1 1.9 3.9 .3 3-.9 11-2.3 5.4-4 6.9-4 4.3-3 .5-3-2.7-1.9-3.4-.1-13.6 6-10.7 3-2.6 4.7-3.1zM35 147l6-.4 3.2 .4 4.3 2 .8 2-1.3 5-2 4.2-2.9 1.8-6.1 2.4-2 .3-4-1.2-2-1.3-1-1.7-.3-2.5 .3-3.1 2-4.8 2-2 3-1.1zM62 166.9l3-.1 3 .7 6.4 4.5 3.3 5 1.9 7-36.4 0 2-4 3.5-4 9.3-7.4 3.5-1.6z" fill="#80ff00"/><path d="M59 111.8l3-.3 2 1.5 .9 4-.3 7-1.6 4-4 5.7-3 2-2 .1-2-1-1.2-1.8-1-5 0-5 1.2-3 3-4.8 2-2 2.4-1.2zM34 147.9l3.2 .1 3.1 1 1.8 2 .6 3-1.3 3-3.4 2.5-2.2 2.5-1.8 .7-2 0-2-.5-1.2-1.2-.7-2 .1-3 .8-3 1.7-3 1.3-1.3 1.7-.7zM61 168.9l3-.6 3 .4 6 3.6 3.7 4.7 1.9 7-33.7 0 2.2-4 3.6-4 4.3-3.5 5.7-3.5z" fill="#99ff00"/><path d="M59 116l2 .8 1 1.8 0 5.4-3 4.6-2 1.3-2 .1-1.2-1-1-2-.3-3 .4-2 3.1-4.6 2.9-1.4zM33 148.9l2.5 .1 2.1 1 .9 1 .3 2-.8 1.4-3 2.6-1.8 4-2.2 .5-1-.3-1.1-1.2-.3-4 1.4-3.9 2.9-3.1zM63 169.8l5 .7 5 3.3 3 4.3 1.5 5.9-31 0 3.1-5 2.7-3 4.7-3.5 5.1-2.5z" fill="#b3ff00"/><path d="M34 150l1.6 1 .1 2-3.7 6.8-2 .3-.9-2.1 .2-3 1.7-3.2 2.3-1.8zM61 171.6l5-.4 5 2.4 3.6 4.4 1.7 6-28.2 0 4.7-7 3.2-2.7 4.2-2.3z" fill="#ccff00"/><path d="M31 153.7l1-.7 .6 1-.6 2.8-1 1.4-1.1-1.2 .1-1.9 .8-1.1zM61 172.9l2-.5 3 .1 4 1.8 3 3.7 2 6-25.3 0 4.3-6.8 3-2.3 3.8-1.9z" fill="#e6ff00"/><path d="M62 173.9l4 0 3 1.3 2.8 3.8 1.8 5-22.4 0 2-4 1.8-2.3 3-2.2 3.5-1.5z" fill="#ffff00"/><path d="M60 175.8l4-.7 4 1.3 2 2.6 2.1 5-19.5 0 2.7-5 4.3-3z" fill="#ffe500"/><path d="M61 176.9l3-.2 3 1.2 2 2.7 1.4 3.4-16.3 0 2.8-5 3.6-2z" fill="#ffcc00"/><path d="M60 178.6l3-.3 2 .7 2 2 1.5 3-13 0 1.5-3.2 2.1-1.8z" fill="#ffb300"/><path d="M59 180.9l2-.8 2 .3 1.9 1.6 1.2 2-8.9 0 1.7-3z" fill="#ff9900"/><path d="M61 183.5l1.2 .5-2 0z" fill="#ff8000"/><path d="M13.1 184l2.3-6 1.5-12 2.4-13 5.7-10 6.2-22 .4-2-1.6-2 1.7-3 0-1 1.1-1 0-1 1-1-.1-2 2.1-3 0-1 1-1 1-3 1.1-1 0-1 1-1 .1-1 4-2.4 18-29.8 4-5.1 6-6 3-2.2 10-3.6 3-.6 3 1 5.4 3.7 2.2 4 2.5 7 1.9 30-.9 27 .8 25 3.9 11 7 29M20.5 184l.5-16 1.9-15 1.6-4 3.4-5 1.9-11 2.2-7.6 4.8-7.4 4.2-9.1 4.5-7.9 1.1-3 .3-4 .7-2 6-9 7.4-4 6-8.6 3-1.9 7-2.4 3 .5 5 2.6 2 2.8 1.1 4 1.8 17-1.7 26 .1 26 1.3 5 10.1 28 .9 6M27 184l-1.6-7-.4-12-.7-5 .5-5 1.9-6 3.1-4 3.2-6 2.1-11 5.9-14 3-5.5 12.9-18.5 9.1-9.2 3-1.8 3-.6 3 .5 2.1 1.1 1.9 2 .7 2 1.4 17-.8 26 1.7 18-.5 10 1.2 3 5.4 8 2.5 18M35.1 184l-.9-6-8-17 0-5 1.4-5 2.4-3.6 8.9-8.4 3.1-17.3 8.3-16.7 10.7-12.2 3-1.7 5-1.3 2.8 1.2 1.4 2 1.7 16-4.8 35 .4 6 1.8 7 7.6 13 4.5 14M43.2 184l2.7-5 5.1-5.1 8-5.9 5-1.3 4 .8 7 5.1 3 5 1.6 6.4M62 105.9l2 .2 1 1 1.9 3.9 .3 3-.9 11-2.3 5.4-4 6.9-4 4.3-3 .5-3-2.7-1.9-3.4-.1-13.6 6-10.7 3-2.6 4.7-3.1M35 147l6-.4 3.2 .4 4.3 2 .8 2-1.3 5-2 4.2-2.9 1.8-6.1 2.4-2 .3-4-1.2-2-1.3-1-1.7-.3-2.5 .3-3.1 2-4.8 2-2 3-1.1M51.2 184l2.6-5 2-2 4.2-2.4 4-1 3 .6 2.8 1.8 2.5 4 1.3 4M60.2 184l.8-.5 1.2 .5" fill="none" stroke="#333" stroke-width="0.9"/><line x1="116.7" y1="143.0" x2="151.0" y2="106.0" stroke="#40a8ff" stroke-width="2.0" stroke-opacity="0.20"/><path d="M1.7 183.1 L85.5 1.3 L81.9 -0.3 L-2.3 181.3 Z" fill="#444444"/><line x1="0.7" y1="180.1" x2="83.1" y2="1.9" stroke="#40d0e0" stroke-width="0.8" stroke-dasharray="0.8 5"/></svg>
<svg style="left:441px;top:214px" width="191" height="183"><rect x="0.5" y="0.5" width="190" height="182" fill="none" stroke="#111" stroke-width="1"/><path d="M1.5 183v2M17.5 183v4M34.5 183v2M50.5 183v4M67.5 183v2M83.5 183v4M100.5 183v2M116.5 183v4M133.5 183v2M149.5 183v4M166.5 183v2M182.5 183v4" stroke="#222" stroke-width="1" fill="none"/></svg>
<div class="lb" style="left:443.8px;top:216px;width:27px;height:15.5px">(F)</div>
<div class="t" style="left:458.8px;top:403.4px;width:20px;margin-left:-10px;text-align:center">300</div><div class="t" style="left:491.76px;top:403.4px;width:20px;margin-left:-10px;text-align:center">400</div><div class="t" style="left:524.72px;top:403.4px;width:20px;margin-left:-10px;text-align:center">500</div><div class="t" style="left:557.68px;top:403.4px;width:20px;margin-left:-10px;text-align:center">600</div><div class="t" style="left:590.64px;top:403.4px;width:20px;margin-left:-10px;text-align:center">700</div><div class="t" style="left:623.6px;top:403.4px;width:20px;margin-left:-10px;text-align:center">800</div>
<svg style="left:42px;top:422px;overflow:hidden" width="193" height="184"><rect x="0" y="0" width="193.0" height="184.0" fill="#0000ff"/><path d="M92 .9l2-.6 18 0 2 .5 1.4 1.2 10.7 26 5.1 16 6.4 13 3.8 16 2.4 14 0 18 8.8 47 2.5 33-156.1 0 18-34.5 32.6-69.5 15.6-32 17.8-33.6 7-12.2 1.9-2.2z" fill="#0019ff"/><path d="M97 14.8l6 .4 4 .9 3 2.2 4 4.2 2.1 3.5 5.1 12 3.7 12 2.6 14 .5 .9 1-.5 2-2.9 2-.9 1 .8 1.3 2.6 1.3 6 .3 7-2.2 21 5.1 25-1.6 19 1.4 3 7.4 6.2 1.7 2.8 1.9 26-.3 5-145.8 0 3-12 2.5-3 1.6-3 4-10 15.1-31 4.5-12 15.8-34.1 4.4-6.9 10.9-21 6.9-11 9.8-17.5 3-3.7 2-1.5 8.2-3.3z" fill="#0033ff"/><path d="M96 28l9 .7 3 1.3 5.4 8 5.7 13 1.1 18 4.4 44-1.6 26 1.4 3 8.3 9 1.9 3 1.7 27-.1 4-124.6 0-1.6-6.6 0-2.4 4-6.6 2.6-11.4 15.4-31.6 1.7-6.4 2.7-7 14.9-32 5.7-8 4.6-9 6.6-11 6.2-8 8.6-12.6 2-2 2-1 8.9-1.4z" fill="#004cff"/><path d="M92 36.9l3 0 8 1.6 3 1.3 2 2.3 4 6.4 1.3 3.5-.4 16 3.4 36-1.6 26 .6 3 6.6 17 1.6 31-.2 4-106.7 0-.4-8 1-16 .8-3 14-29.3 5.1-15.7 14.5-31 6.4-8.4 5-9 8-11.9 6.1-5.7 5.9-7.2 8.2-2.8z" fill="#0066ff"/><path d="M87 45.8l3 .5 7.3 3.7 3.4 6 1.6 5 2.2 11 2 14-1.7 27 .7 26 .5 2 5.1 11 4.6 33-95.9 0-1.3-23 .6-4 14.9-32 1.6-7 3-8 7.6-15 5.7-13 1.8-3 5.2-6 5.5-9 7.6-10.1 3-2.4 11.3-6.5z" fill="#0080ff"/><path d="M82 52.8l3-.5 3 .3 5 3 3.8 5.4 2.9 9 2.4 17-1.2 53 1.1 5 4.7 10 1.8 6 2.8 24-89.2 0-2.4-22 .2-4 14.7-33 2-8 3-8 7.9-15 6.5-14 5.3-6 6.7-10 6-6.9 4-3.1 5.1-2z" fill="#0099ff"/><path d="M78 57l4-.9 3 .2 5 2.3 4 5 2.5 7.4 1.9 10 .6 7-1.2 53 1.6 7 5.1 10 1.6 5 2 22-84.1 0-3.4-23 .2-3 14.4-33 4.1-14 9.7-18 5.4-12 12.6-16.2 7-6.6 3.9-2.2z" fill="#00b2ff"/><path d="M78 59.7l3-.6 3 .4 3 1.3 2 1.5 3.3 4.7 2.2 8 1.6 8 .5 7-.3 27-1.1 25 1.9 8 4.9 9 1.5 4 2 22-79.8 0-4.1-23 .1-3 14.1-33 4.1-14 3.1-6.3 7.1-11.7 5.5-12 12.4-15.3 6-4.8 3.2-1.9z" fill="#00ccff"/><path d="M80 61.9l2 .2 3 1.2 4.1 3.7 1.8 4 2.8 11 .8 18-1.6 42 2.3 10 4.8 8.3 1.5 3.7 1.8 21-76.1 0-4.7-23 0-3 13.8-33 4.1-14 3.6-7 7.1-11 4.5-10 2.6-4 10.8-12.4 7-4.4 3.2-1.2z" fill="#00e5ff"/><path d="M78 65l2-.4 2 .6 3 1.8 2 2 1.4 3 3.3 11 1 16-1.7 44 2.2 10 5.1 9 1.1 3 1.9 20-72.7 0-5.2-23 0-3 13.3-33 4.2-14 4.1-7.6 7.1-10.4 5.2-11 4.3-6 8.4-8.4 7.9-3.6z" fill="#00ffff"/><path d="M77 67.9l4 .3 3.8 2.8 2.9 6 2.2 7 1 15-1.7 44 1.8 10 6 12.6 2.6 19.4-69.7 0-5.5-23-.1-3 12.9-33 4.2-14 5.1-9 6.5-9 5-10.3 4-5.8 8-7.4 6.6-2.5z" fill="#00ffe5"/><path d="M73 70.9l5-.5 4 1.8 3 3.9 2.7 6.9 1.6 16-1.6 32-.1 13 1.8 10 5.4 13 3.1 18-66.8 0-5.8-23-.1-3 12.5-33 3.8-13 4.5-8.2 7.1-9.8 7.9-14.1 7-7 4.8-2.9z" fill="#00ffcc"/><path d="M73 73l4-.2 4 2.1 3.2 4.1 1.8 5 1.7 15-1.9 30 .2 16 1.3 8 5.6 16 3.5 16-64.2 0-6-23-.1-3 12-33 3.6-12 2.9-6 9.3-13 7.1-12.4 7-6.7 4.9-2.9z" fill="#00ffb3"/><path d="M74 74.9l3 .5 3 2 3 3.5 1.1 3.1 2.1 14-2.7 32 .9 16 1.4 8 6.2 19.6 2.8 11.4-61.5 0-6.1-23-.2-3 11.6-33 3.5-12 2.9-5.8 9.6-13.2 7.4-11.9 7-5.8 4.3-2.3z" fill="#00ff99"/><path d="M72 77.8l3-.5 3 1.7 3.2 3 1.2 3 2.1 14-4.2 31 0 3 3.5 20 9.5 32-59 0-.7-4-5.4-19-.2-3 11.1-33 3.5-12 3.4-6.4 8.7-11.6 7.3-11.1 3-2.9 6.6-4z" fill="#00ff80"/><path d="M73 79.9l3 .7 3.2 2.4 1.5 3 1.4 7 .7 5-.5 6-2.7 16-2.8 9-.4 4 .6 3.1 3 8 6 25.5 5.7 15.4-56.4 0-.6-4-5.6-19-.2-3 14.1-45 5-8.4 15-20.1 4-3.2 5.6-2.3z" fill="#00ff66"/><path d="M69 82.9l4-.8 3 1 2.6 2.9 1.4 4.3 1 6.7-.2 5-3 18-2.8 9.3 0 6.7 6 19.6 3 14.4 6.2 15-53.9 0-.6-4-5.5-19-.2-3 13.2-44 2.3-5 6.5-8.9 12.2-15.1 4.5-3z" fill="#00ff4d"/><path d="M71 83.9l3 .5 2.9 2.6 1.5 4 .8 6-.4 8-2.2 14-2.6 11 .2 10 5.2 16 2.8 14 6.5 15-51.5 0-.4-4-5.6-19-.2-3 .9-5 2.2-6 9.5-33 2.4-4.9 7-9.4 7.4-7.7 5.6-6.9 4.3-2.1z" fill="#00ff33"/><path d="M69 85.9l3-.1 2 1 1.8 2.2 1.1 3 .6 12-2 15-2.1 11-.4 12 .8 4 4.1 11 2.4 12 7 16-49.2 0-.3-4-5.5-19-.1-6 2.8-8.3 8.7-31.7 2.3-5.1 7-9.3 9.1-8.6 4-5 2.7-2z" fill="#00ff19"/><path d="M69 88l3 .2 2.5 2.8 1.5 10-1.3 17-2 13-.8 15 4.1 11.7 2.5 10.3 7.6 17-47.1 0-.1-4-5.5-19-.6-6 3.7-11 7.6-29 1.9-4.3 8-10.4 4-3.8 4.9-3.5 4.1-4.6 2-1.4z" fill="#00ff00"/><path d="M69 90.9l2 .1 1.8 2 1.9 10-.9 17-3.5 25 .1 4 1 4 5.4 14 8.2 18-45.2 0 .3-4-.4-3-5.3-17-.9-6 3.8-10 7.2-29 2.5-4.9 8-10 13.8-10.1z" fill="#1aff00"/><path d="M68 93.9l2.1 .1 1.9 2.5 1.1 4.5 .5 6-.6 15-1.9 15-2.7 10-.2 7 1.4 4 4.4 6.5 4.2 7.5 5.8 13-43.3 0 .9-7-.4-4-2.5-7-2.9-6-1.7-6 4.4-11 3.8-19 2.6-9 2.1-4.2 8-9.8 4-3.2 8.6-4.8z" fill="#33ff00"/><path d="M67 95.9l2 .1 1 .8 1.6 4.2 .9 6 0 14-2 16-5.9 16-.8 3 .1 2 1.7 2 5.4 3.8 3 3.4 3.7 5.8 5.3 12-41.5 0 3.9-13 0-3-7.4-7.6-2.7-4.4-.5-2 4.5-11 3.7-20 3.1-10 7.9-9.9 4-3.7 8.6-4.4z" fill="#4cff00"/><path d="M65 97.9l2-.4 2 1.1 2.4 8.4 .5 15-2.4 16-5.5 10.2-4 5.6-3 1.7-7 .8-6 4.3-3-.1-4-2.9-1.3-2.6 4.4-10 3-20 2.9-9.9 2-3.2 8-9 3-2.2 5.7-2.7zM59 163.7l3-.4 3 .2 4 1.4 3 2 5 6.5 5.1 11.6-39.8 0 2.2-6 3.5-5.8 6-6.8 4.2-2.4z" fill="#66ff00"/><path d="M64 99.8l2-.4 2 1.5 2.4 8.1 .9 13-2.6 16-5.7 8.3-5 4.9-2 .6-5-.7-3 .3-3.9 1.6-3.1 3.2-1 .5-2-.4-1-1-.1-1.3 4.3-9 2.3-20 3-10 1.5-2.4 8-8.7 3-2.1 4.5-1.8zM61 165.9l3-.2 3 .5 3 1.1 2 1.4 4.4 5.3 4.8 11-38.2 0 3.3-7 3.7-4.8 6-5.3 4.6-1.9z" fill="#80ff00"/><path d="M62 101.9l3-.3 1 .5 2 3.3 1.1 3.6 1.5 13-2.3 15-1.3 2.3-4 4.4-5 3.9-3 .9-11 .2-1.1-.7 .1-12.5 .9-10.5 2.6-9 1.8-3 8.7-8.8 4.8-2.2zM60 167.9l3-.5 3 .2 3 .8 3 1.9 3.9 4.7 4.5 10-36.6 0 3-6 3.2-4.3 5-4.2 4.8-2.5z" fill="#99ff00"/><path d="M60 103.9l3-.4 2 .8 1.8 2.7 1 3 2 12-2.1 14-1 2-2.7 2.7-6 4.2-5 1.1-6-.5-1.1-.5-1.2-2-.8-6 .4-12 2.2-8 2.5-4.1 8-7.3 2.7-1.6zM62 168.9l6 .5 4.3 2.6 3.1 4 4 9-34.8 0 3.1-6 3.3-4 5-3.7 5.5-2.3z" fill="#b3ff00"/><path d="M60 105.7l3 .2 2 2.1 3 10.7 .5 5.3-1.6 11-2 3-5.9 4.1-5 1.3-5-.3-2-1.2-1.7-3.9-.4-14 2.1-7.2 1.6-2.8 10.6-8zM64 170l5 1.1 3.8 2.9 2.2 3 3.5 8-33.1 0 3.2-6 3.4-3.8 6-3.7 5.2-1.5z" fill="#ccff00"/><path d="M58 108.8l2-.4 2 .6 1.5 2 1.2 3 2.5 10-1.4 9-1.3 3-3.5 2.7-5 2.1-4 .1-3-1-2-2.2-1.2-4.7-.7-8 3.3-10 2.6-2.4 6.5-3.6zM60 171.8l3-.7 3 .2 3 1 2 1.4 3 3.5 3.5 7.8-31.3 0 2.6-5 2.2-2.8 3-2.5 5.6-2.7z" fill="#e6ff00"/><path d="M54 111.8l4-.3 3.6 2.5 2.9 6 1.3 5-1.4 7-1.4 2.8-3 2.1-5 1.8-4-.8-3-2.4-1.4-3.5-1-6 2.8-10 1.6-2 3.7-2zM60 172.9l5-.6 2.8 .7 2.2 1.3 3.4 3.7 3.2 7-29.6 0 2.6-5 1.6-2 3.8-2.9 4.8-2.1z" fill="#ffff00"/><path d="M54 113l3 .4 3.4 2.6 2.8 5 1.2 4-.8 4-1.6 4-3 2.3-4 1.2-4-.9-2-1.5-2-4-.9-4.1 2.9-10 2-1.9 2.9-1.1zM60 173.9l5-.6 4.1 1.7 3.1 3 3.4 7-27.8 0 2.2-4.3 2-2.4 3-2.2 4.8-2.1z" fill="#ffe500"/><path d="M51 115l3-.8 3 1 3 3.3 2.7 5.5 0 3-1.5 4-1.8 2-2.4 1.3-3 .3-3-.9-2-2-2-4.2 0-4 2.2-6.5 1.7-2zM60 174.9l5-.5 4 1.8 2.6 2.8 3 6-26 0 3.4-5.7 3-2.2 4.7-2.1z" fill="#ffcc00"/><path d="M52 115.7l2-.1 2.6 1.4 3.2 4 1.3 3 0 3-1.1 2.7-2 2.2-2 .9-3-.1-2-1-2-2.3-1.2-2.4-.2-2 .4-2.1 2-5.7 1.1-1.2zM60 175.9l4-.6 4 1.5 2.4 2.2 3.2 6-24.3 0 1.7-3.2 2-2.3 6.6-3.5z" fill="#ffb300"/><path d="M52 117.3l1-.1 2 .9 3 3.2 1.5 2.7 .1 2-.6 1.9-3 2.6-2 .3-1.8-.8-2.6-3-.4-3 1.9-6zM60 176.9l4-.4 3.8 1.5 2.2 2.3 2.6 4.7-22.5 0 2.9-4.5 6.7-3.5z" fill="#ff9900"/><path d="M53 121.6l2-.2 2.5 1.6 .8 2-.8 2-2.5 .9-2.1-.9-1-2 .8-3zM61 177.8l3 0 3.1 1.2 1.9 1.6 2.6 4.4-20.7 0 3.1-4.3 6.4-2.7z" fill="#ff8000"/><path d="M55 123.6l1.5 .4 .5 1-.7 1-1.5 0-.7-1 .3-1zM60 179.7l3-.5 4 1.3 2 1.7 1.6 2.8-18.8 0 2.2-3.2 2-1.1 3.4-.7z" fill="#ff6600"/><path d="M62 181l5 .9 1.4 1.1 1.3 2-17.1 0 2.4-2.8 6.9-1.2z" fill="#ff4c00"/><path d="M56 182.8l6-.5 3 .3 2 .5 1.8 1.9-15.2 0 2-2z" fill="#ff3300"/><path d="M56 183.9l8-.6 2 .4 1.8 1.3-13.1 0 1.1-1z" fill="#ff1a00"/><path d="M57 184.6l7-.4 2.5 .8-10.3 0z" fill="#ff0000"/><path d="M19.8 185l-1.3-23 .6-4 14.9-32 1.6-7 3-8 7.6-15 5.8-13.3 1.7-2.7 5.2-6 5.5-9 7.6-10.1 3-2.4 10-6 3-.7 7 2.7 3.1 2.5 3.4 7 2.6 12 2.4 16-1.7 27 .7 26 .5 2 5.1 11 4.6 33M28.6 185l-5.2-23 0-3 13.3-33 4.2-14 4.1-7.6 7.1-10.4 5.2-11 4.7-6.5 8-7.9 7-3.3 3-.7 4 1.7 3 2.7 1.4 3 3.3 11 1 16-1.7 44 2.2 10 5.1 9 1.1 3 1.9 20M34.3 185l-.7-4-5.4-19-.2-3 11.1-33 3.5-12 3.4-6.4 8.7-11.6 8.1-12 4.2-3.3 5-2.9 2-.6 2.4 .8 3.9 3 1.5 2 .8 3 1.9 13-4.2 31 0 3 3.5 20 9.5 32M39 185l-.1-4-5.5-19-.6-6 3.7-11 7.9-30 2.1-4 7.8-10 8.6-7 5.1-5.5 2-.7 2 .4 2.5 2.8 .8 3 .8 8-1.5 17-1.9 12-.8 15 4.1 11.7 2.5 10.3 7.6 17M43 185l3.3-7 4.7-5.9 6-4.8 6-1.6 6 1.1 4 2.9 3.4 4.3 4.8 11M64 99.8l2-.4 2 1.5 2.4 8.1 .9 13-2.6 16-5.7 8.3-5 4.9-2 .6-5-.7-3 .3-3.9 1.6-3.1 3.2-1 .5-2-.4-1-1-.1-1.3 4.3-9 2.3-20 3-10 1.5-2.4 8-8.7 3-2.1 4.5-1.8M47 185l3-5.6 3-3 6-3.1 5-1.1 4 .9 3.9 2.9 2 3 2.7 6M54 111.8l4-.3 3.6 2.5 2.9 6 1.3 5-1.4 7-1.4 2.8-3 2.1-5 1.8-4-.8-3-2.4-1.4-3.5-1-6 2.8-10 1.6-2 3.7-2M50.9 185l3.1-4.3 6-2.6 3-.4 2 .3 3 1.6 3.6 5.4M53 121.6l2-.2 2.5 1.6 .8 2-.8 2-2.5 .9-2.1-.9-1-2 .8-3M56.2 185l6.8-.8 3.5 .8" fill="none" stroke="#333" stroke-width="0.9"/><line x1="114.2" y1="148.0" x2="154.3" y2="104.8" stroke="#40a8ff" stroke-width="2.0" stroke-opacity="0.20"/><path d="M0.6 184.9 L60.2 57.6 L55.7 55.5 L-3.0 183.2 Z" fill="#444444"/><path d="M58.9 56.9 L84.8 0.6 L83.3 -0.0 L57.1 56.1 Z" fill="#444444"/><line x1="-0.2" y1="181.9" x2="58.0" y2="56.5" stroke="#50d050" stroke-width="0.7" stroke-dasharray="1.5 4"/><line x1="58.0" y1="56.5" x2="84.1" y2="0.3" stroke="#30c8ff" stroke-width="0.9" stroke-dasharray="none"/></svg>
<svg style="left:42px;top:422px" width="193" height="184"><rect x="0.5" y="0.5" width="192" height="183" fill="none" stroke="#111" stroke-width="1"/><path d="M0.5 184v2M17.5 184v4M33.5 184v2M50.5 184v4M67.5 184v2M84.5 184v4M100.5 184v2M117.5 184v4M134.5 184v2M150.5 184v4M167.5 184v2M184.5 184v4M0 180.5h-3M0 162.5h-2M0 144.5h-3M0 126.5h-2M0 108.5h-3M0 90.5h-2M0 72.5h-3M0 54.5h-2M0 36.5h-3M0 18.5h-2M0 0.5h-3" stroke="#222" stroke-width="1" fill="none"/></svg>
<div class="lb" style="left:41.9px;top:423.9px;width:25.3px;height:15.7px">(G)</div>
<div class="t" style="left:59.19px;top:612.4px;width:20px;margin-left:-10px;text-align:center">300</div><div class="t" style="left:92.62px;top:612.4px;width:20px;margin-left:-10px;text-align:center">400</div><div class="t" style="left:126.06px;top:612.4px;width:20px;margin-left:-10px;text-align:center">500</div><div class="t" style="left:159.5px;top:612.4px;width:20px;margin-left:-10px;text-align:center">600</div><div class="t" style="left:192.94px;top:612.4px;width:20px;margin-left:-10px;text-align:center">700</div><div class="t" style="left:226.37px;top:612.4px;width:20px;margin-left:-10px;text-align:center">800</div><div class="ty" style="left:5.6px;top:598.27px">250</div><div class="ty" style="left:5.6px;top:562.23px">300</div><div class="ty" style="left:5.6px;top:526.2px">350</div><div class="ty" style="left:5.6px;top:490.16px">400</div><div class="ty" style="left:5.6px;top:454.12px">450</div><div class="ty" style="left:5.6px;top:418.09px">500</div>
<svg style="left:239px;top:422px;overflow:hidden" width="193" height="185"><rect x="0" y="0" width="193.0" height="185.0" fill="#0000ff"/><path d="M85 -1l11 0-.4 1 .4 .3 15-.1 3 1 1.2 1.8 16.8 41.9 6.7 13.1 3.8 13 2.9 16 6.8 99-152.4 0 14.2-27.6 1.4-4.4 .2-5 .8-1 0-2 1-1 2-5 1-1 1-3 1-1 .1-2 1-1 1-3 2.4-4 4.1-3.8 2-3 12.9-29.2 20.6-42 13.9-24 11.3-14 3.7-8-.4-.6-6-1-4 .4-.2-.8z" fill="#0019ff"/><path d="M98 10.6l6-.3 3.1 .7 9.8 11 7.1 16.8 6 18.3 1 1.5 4 2 2.5 5.4 1 7 0 8-.9 7-2.8 12-.3 8 .6 11 5.7 62-.3 5-137 0 5-11 6.5-16.7 1.6-6.3 .3-6 .9-1 2-5 2-3 1.1-4 1.1-1 2-4.6 7.1-8.4 13-29 8.9-17.3 12-21.2 16.6-27.5 2.4-2.8 6.5-5.2 4.7-5z" fill="#0033ff"/><path d="M94 23l3 .1 11 2.4 3 1.7 6.8 13.8 4.7 16 .5 21-1.8 40 7.4 62 .1 6-121.3 0 4-9 6.6-28 2.2-7 1.9-2 1.1-4 1.8-2.5 1.5-4.5 7.6-11 14.9-32.7 12-20.7 9-13.3 5.7-7.3 4.4-8 5.9-9 3-2.7 4.9-1.3zM134 69.9l1 .2 .8 4.9-.8 4.6-1 .2-1-4.8 1-5z" fill="#004cff"/><path d="M92 35l10 1.5 3 2.3 7 11.7 3.1 12.5 .6 5 .5 19 .1 41 4.5 53 0 5-110.1 0 3.4-8 2.4-19 4.4-15 2.1-3.7 1-3.3 5.5-12 3.4-4 2.2-4 14.2-31 6.7-11.6 7-10.3 9-11.4 7.4-6.7 4.6-8 3-1.8 4.4-1.2z" fill="#0066ff"/><path d="M87 50l5 1.2 3 2.8 4.3 8 3.3 13 1.8 22-1.8 20 .5 24 .9 3.3 5.6 6.7 1.2 3 3.8 27 .1 5-101.4 0 2.8-8 1.5-20 3.6-13 8.8-20 3.3-4 2.3-4 14.4-31.1 6-9.9 7-9.5 10-11 4-2.6 9.9-2.9z" fill="#0080ff"/><path d="M77 56.8l3-.6 4 .1 3 .9 3 2 4.3 5.8 3.2 9 1.7 9 1.4 14-1.6 22-.1 21 1.1 5.3 5.1 12.7 4.6 28-94.3 0 2.2-8 .6-18 1.1-7 2.5-8 8.7-20 5.1-7 14.4-30.6 6-9.7 10-12.3 7-6.3 3.5-2.1z" fill="#0099ff"/><path d="M80 60l5 1.2 2.7 1.8 2.3 2.4 3 5.6 2.6 9 1.8 12 .4 7-2.2 33 0 7 1.2 6 4 13 5.1 28-88.8 0 1.9-9 .2-18 .8-6 1.9-7 9.1-21 5.1-7 7.5-15 3.4-8.1 4-7.5 6-9.2 8-9.2 4-3.8 6-4 4.9-1.2z" fill="#00b2ff"/><path d="M76 64l3-.6 3 .5 3 1.5 2 1.7 3.6 5.9 2.7 9 2.2 17-2.8 35 .1 5 4.5 18 5.6 29-84.2 0 1.3-9 .1-19 .7-6 1.5-6 8.6-20 5.6-8 11.5-23.3 8-12.7 11-12.5 4-3 4.9-2.5z" fill="#00ccff"/><path d="M77 66.8l3-.1 2 .7 4 3.3 2.4 4.3 3 9 2 15-3.4 40 4.2 16 6.2 31-80.3 0 .9-9 0-21 .8-6 1-4 8.5-20 5.7-8 11-21.5 3.8-4.5 6.2-10 10.3-11 2.7-1.8 5-2.2z" fill="#00e5ff"/><path d="M77 69.9l2 0 2 .6 3.9 3.5 3.6 8 1.1 4 1.6 13-3.9 40 4.5 16 6.4 31-76.8 0 .4-31 .6-6 9.3-23 5.2-7 11.1-20.8 5.8-6.2 6.2-9.8 10-9.8 6.4-2.4z" fill="#00ffff"/><path d="M76 73l4 .7 2.8 2.3 3.3 6 1.5 5 1.4 12-3 22-1.2 18 5 17 6.5 30-73.5 0 .1-37 9.1-22.8 5.4-7.2 11.1-20 6.3-6 6.2-9.6 9-8.4 3-1.5 2.7-.5z" fill="#00ffe5"/><path d="M73 76l4-.2 3.9 2.2 3.1 4.6 1.7 5.4 1.1 12-3.5 21-.6 19 7.6 26 4.2 20-70.4 0-.7-6 .1-31 8.6-22 5.2-7 11.7-20.4 6-5 4-6.6 4-4.7 6-5.3 3.9-2z" fill="#00ffcc"/><path d="M71 78.8l4-.6 4 1.7 3 3.6 1.7 4.5 1 12-3.6 22-.4 19 7.9 25 4.2 20-67.4 0-1.3-7 0-30 8.4-22 5.4-7 11.1-19.1 2-2.2 5-3.6 3.6-6.1 2.4-2.9 6-5.4 2.7-1.7z" fill="#00ffb3"/><path d="M71 80.8l4-.1 3 1.7 2.4 2.6 1.4 4 1 11-3.5 23-.5 19 .7 3 4.1 10 3.4 11.3 4.1 19.7-64.3 0-1.4-4-.5-4 0-29 8.1-22 5-6.4 8-14 3.9-5.6 6.7-5 5.4-8.4 8.6-6.6z" fill="#00ff99"/><path d="M71 82.9l3 .3 3 1.8 2 2.5 .9 3.5 1 9-3.1 24-.6 19 4.6 12 3.4 11 2.9 15 1.5 5-61.2 0-2.2-5-.6-3 .3-29 1.3-5 6-16 1.7-3 3.5-4 7.6-13.4 4-5.6 2.1-2 4.9-3.1 6-8.6 7.8-5.3z" fill="#00ff80"/><path d="M70 85.8l3-.1 3 2 1.4 2.3 1.3 5 .4 6-2.7 25-.7 17 6.6 19 1.7 7 1.6 11 2.6 6-57.9 0-3-5-.8-3 .3-28 1.2-5.6 6-16.7 4.3-5.7 7.7-13.3 4-5.6 3-2.8 5-3.3 5-7.1 6.5-3.9z" fill="#00ff66"/><path d="M67 89l4-.9 2.5 .9 2.4 3 1.2 4 .4 4-.4 11-2.1 18-.6 15 6.5 19 3.2 18 2.8 5-54.3 0-3.6-4.3-1.4-3.7 .3-27 1-6 5.5-16 1.4-3 3.2-4 10-16.6 4-4.2 6.2-4.2 4.8-6.2 2.9-1.8z" fill="#00ff4d"/><path d="M67 90.7l3-.4 2 .7 2 2.1 1.4 3.9 .6 16-2.4 18-.5 14 5.6 16 2.4 13 1.9 7 2.7 5-50.2 0 .4-3-4.9-1.3-1.5-1.7-.7-3 .8-9-.4-18 5.9-20 1.2-3 2.7-3.7 10-16.8 4.3-4.5 6-4 4.7-5.3 2.5-1.7zM37.9 181l.1 1 1.1-1-.1-.4-1 .3z" fill="#00ff33"/><path d="M67 92.6l2-.2 2 .9 2 2.6 .9 3.1 1.1 14-2.6 19-.7 14 4.3 12 4.8 19 2.2 6.2 1.6 2.8-46.8 0 3.3-4 .5-3-.6-3-1-1.1-2-.2-1.7 1.3-1.9 3-1.4 1-2-.7-.5-1.3 1.5-9-1.4-10-.1-7 3.3-11 2.3-10 1.1-3 4.8-9.1 7-11.2 5.5-5.7 6.2-4 5.5-5z" fill="#00ff19"/><path d="M67 94.9l2 .1 2.5 3 2.4 14-3.1 23-.7 12 9.8 30 3.8 9-44.3 0 2.2-3 1.3-4 .8-12-.7-1.7-1.4-1.3-5.6-1.3-2-1.2-1-1.6-.9-4.9 .6-4 3.2-8 2-13 4.7-11 7.4-11.3 5.8-5.7 10.9-7z" fill="#00ff00"/><path d="M67 98l2 1 1.1 2 1.9 6.9 .7 5.1-4.6 31 .1 5 3.1 10 11.6 27-42.3 0 1.7-3 3.3-9 3.4-7 .6-3-.6-2-1-1-3-1.5-8-2.4-1.5-2.1 .2-3 2.4-8 .7-11 .9-4 3.7-10 7.6-11 7-6.4 8.9-3.6z" fill="#1aff00"/><path d="M63 100.9l3-.1 2.6 2.2 2.2 6 .7 5-2.7 18-5.5 26 6.7 5.4 4 5.3 4 7 4.2 10.3-40.7 0 5.5-11.5 11.6-14.5-.2-1-1.4-.7-12-3.6-3-1.6-1-1.1-.8-4 0-14 .5-4 3-10 6.3-8.9 7.9-8.1 4.6-2z" fill="#33ff00"/><path d="M62 102.9l3 .2 2 1.4 1.5 2.5 1.3 4 .2 7-2.4 14-4.6 13.8-2.4 4.2-1.6 1.5-3 1.2-6-.2-4.9-2.5-2.2-4-1.2-13 1.9-10 2.3-5 6.1-6.9 6-6.1 3.6-2zM62 164.8l3-.2 3 .8 5 4.3 4 5.5 4.5 10.8-39.3 0 3.8-8 4-5.1 6-5.7 5.3-2.2z" fill="#4cff00"/><path d="M61 105.5l2-.3 2.2 .8 1.8 2 1.1 3 .6 7-1.9 12-1.8 5.5-5 10-3.8 3.5-4.2 .7-4-1.7-2.6-3-2.1-10 0-5 1.5-8 1.5-3 13.8-13zM59 167.9l5-.8 3 .2 5 3.3 3 2.9 2 3.1 3.8 9.4-37.9 0 3.1-6.4 2-2.9 7-6.6 3.8-2.1z" fill="#66ff00"/><path d="M61 109l2-.7 2 1 2 5 .3 4.7-1.7 11-1.6 4.4-5 8.1-4 3.5-3 .4-4-2.4-2-4.5-1.6-7.5 1.2-9 .7-2 1.7-2.3 12.9-9.7zM62 169l3-.2 3 .7 6 4.2 3 4.2 3.2 8.1-36.7 0 3.5-6.7 3-3.2 7-5.6 5-1.5z" fill="#80ff00"/><path d="M60 112.8l3-.3 1 .8 1.3 2.7 .3 5-1.2 9-2.4 5-4 5.3-3 1.9-3 .4-3-2-2.8-6.6-.4-4 .9-7 1.3-2.7 2.5-2.3 4.5-3 4.5-2zM59 171l4-.8 3 .1 6 3 4.2 4.7 3.2 8-35.2 0 2.8-5.4 2-2.4 6-4.9 3.9-2.3z" fill="#99ff00"/><path d="M56 115.7l4-.7 2 .5 1 1 1.1 3.5-.1 6-1.2 5-3.2 5-3.6 3.1-3 .5-2.9-1.6-1.8-3-1.1-4 .1-5 .5-3 1.1-2 3.2-3 3.4-2zM60 171.9l6-.4 6 3.1 4 4.6 2.6 6.8-33.7 0 2.1-4.1 2.4-2.9 5.6-4.4 4.6-2.6z" fill="#b3ff00"/><path d="M56 116.9l3-.1 2.2 1.2 1.4 3 .3 5-1 4-2.9 4.5-2 1.9-3 .8-2-.7-2.2-2.5-1.3-4-.1-4 .6-3 1.4-2 2.6-2.5 2.7-1.5zM60 173l3-.6 3 .3 6 3.2 3.3 4.1 2.4 6-32.1 0 2.2-4 2.8-3 5.4-4 3.9-2z" fill="#ccff00"/><path d="M57 117.9l2 .9 1.1 1.2 1.2 3 .3 3-.8 3-1.8 3.1-2 2.2-2 .8-2-.6-2-2.5-1.2-3-.3-3 .4-2 1.1-2 2.9-3 2.1-1zM61 173.8l5 .1 5 2.6 2.9 3.5 2.8 6-30.4 0 1.7-3 3.9-4 5.1-3.5 3.2-1.5z" fill="#e6ff00"/><path d="M55 119.8l2-.1 1 .9 1.9 3.4 .2 2-.4 2-1.7 2.7-2 1.7-1 .1-3-2.8-1.2-3.7 1-3 3-3zM61 174.9l4-.1 5 2.4 2.5 2.8 3.1 6-28.5 0 1.9-3 4-3.9 4-2.6 3.5-1.5z" fill="#ffff00"/><path d="M54 122.8l2-.8 1.5 1 1 2-.5 2.9-2 1.8-2-.7-1.3-2-.2-2 1.3-2zM61 175.9l4 .1 4.1 2 2.1 2 3.4 6-26.7 0 2.1-3 3.1-3 4.9-3 2.7-1z" fill="#ffe500"/><path d="M55 124.7l1-.2 .5 .5 .1 1-.6 1-1-.3-.3-1.7zM61 177l4 .3 4 2.1 4.5 6.6-24.7 0 2.2-3 3-2.7 4-2.3 3-1z" fill="#ffcc00"/><path d="M59 178.6l4-.5 4 1.4 2.1 1.5 3.4 5-22.8 0 3.5-4 4.9-3z" fill="#ffb300"/><path d="M59 179.9l4-.2 4 1.1 2 1.7 2.4 3.5-20.8 0 3.8-4 4.2-2z" fill="#ff9900"/><path d="M57 181.6l3-.5 6 .5 2 1.3 2.4 3.1-18.8 0 4.4-4z" fill="#ff8000"/><path d="M57 182.6l2-.4 7 .4 3.3 3.4-16.6 0 3.4-3z" fill="#ff6600"/><path d="M64 183l2 .4 2.3 2.6-14.4 0 4.1-2.8 5.9-.2z" fill="#ff4c00"/><path d="M59 183.8l6 0 2.4 2.2-12.2 0 3-2z" fill="#ff3300"/><path d="M59 184.7l5-.2 1.5 .5 .9 1-9.7 0 1.3-1z" fill="#ff1a00"/><path d="M59 185.7l5-.3 1.2 .6-6.8 0z" fill="#ff0000"/><path d="M13.3 186l2.8-8 1.5-20 3.6-13 8.8-20 3.3-4 2.3-4 14.4-31.1 6-9.9 7-9.5 10-11 4-2.6 10-2.9 5 1.2 3 2.8 4.3 8 3.3 13 1.8 22-1.8 20 .5 24 .9 3.3 5.6 6.7 1.2 3 3.8 27 .1 5M21.4 186l.4-31 .6-6 9.3-23 5.2-7 11.1-20.8 5.8-6.2 6.2-9.8 10-9.8 3-1.4 5-1.2 3 .7 3.9 3.5 3.6 8 1.1 4 1.6 13-3.9 40 4.5 16 6.4 31M28.4 186l-2.2-5-.6-3 .3-29 1.3-5 6-16 1.7-3 3.5-4 7.6-13.4 4-5.6 2.1-2 4.9-3.1 6-8.6 7-5 2-.5 3 .8 3 2.4 1.2 2 .7 3 1 9-3.1 24-.6 19 4.6 12 3.4 11 2.9 15 1.5 5M39.4 186l2.2-3 1.3-4 .8-12-.7-1.7-1.4-1.3-5.6-1.3-2-1.2-1-1.6-.9-4.9 .6-4 3.2-8 2-13 4.7-11 7.4-11.3 6-5.8 10-6.6 2-.6 2.3 1.3 1.6 3 2 13-3.1 23-.7 12 9.8 30 3.8 9M43.5 186l3.7-7 6.8-6.3 5-3.1 6-.8 4 1.2 5 3.7 3 4.2 3.2 8.1M61 109l2-.7 2 1 2 5 .3 4.7-1.7 11-1.6 4.4-5 8.1-4 3.5-3 .4-4-2.4-2-4.5-1.6-7.5 1.2-9 .7-2 1.7-2.3 12.9-9.7M47.1 186l1.9-3 5-4.6 5-2.9 4-.9 3 .5 5 2.9 4.6 8M55 119.8l2-.1 1 .9 1.9 3.4 .2 2-.4 2-1.7 2.7-2 1.7-1 .1-3-2.8-1.2-3.7 1-3 3-3M51.6 186l4.4-4 4-.9 6 .5 2 1.3 2.4 3.1M58.4 186l4.6-.6 2.2 .6" fill="none" stroke="#333" stroke-width="0.9"/><line x1="117.6" y1="145.2" x2="151.0" y2="109.0" stroke="#40a8ff" stroke-width="2.0" stroke-opacity="0.17"/><path d="M0.4 185.8 L64.9 45.0 L62.6 43.9 L-2.6 184.4 Z" fill="#444444"/><path d="M64.5 44.8 L84.9 0.6 L83.4 -0.1 L63.0 44.1 Z" fill="#2a7dff"/><line x1="0.6" y1="181.4" x2="63.1" y2="45.9" stroke="#40d090" stroke-width="0.8" stroke-dasharray="3 3"/></svg>
<svg style="left:239px;top:422px" width="193" height="185"><rect x="0.5" y="0.5" width="192" height="184" fill="none" stroke="#111" stroke-width="1"/><path d="M0.5 185v2M17.5 185v4M34.5 185v2M50.5 185v4M67.5 185v2M84.5 185v4M100.5 185v2M117.5 185v4M134.5 185v2M151.5 185v4M167.5 185v2M184.5 185v4" stroke="#222" stroke-width="1" fill="none"/></svg>
<div class="lb" style="left:240.9px;top:423.8px;width:26.1px;height:15.5px">(H)</div>
<div class="t" style="left:256.29px;top:613.4px;width:20px;margin-left:-10px;text-align:center">300</div><div class="t" style="left:289.72px;top:613.4px;width:20px;margin-left:-10px;text-align:center">400</div><div class="t" style="left:323.16px;top:613.4px;width:20px;margin-left:-10px;text-align:center">500</div><div class="t" style="left:356.6px;top:613.4px;width:20px;margin-left:-10px;text-align:center">600</div><div class="t" style="left:390.04px;top:613.4px;width:20px;margin-left:-10px;text-align:center">700</div><div class="t" style="left:423.47px;top:613.4px;width:20px;margin-left:-10px;text-align:center">800</div>
<svg style="left:440px;top:422px;overflow:hidden" width="191" height="188"><rect x="0" y="0" width="191.0" height="188.0" fill="#0000ff"/><path d="M94 .9l3-.7 10 0 2 .4 1.7 1.4 5.8 14 10.9 23 5.6 14 4.5 15 .6 4-.7 26 0 39 2.4 52-140.8 0 1.8-3 0-1 1-1 .1-2 1-1 1.1-3 10-17.1 49.3-107.9 6.3-12 8.4-14 5-14 5-6.8 5.8-5.2z" fill="#0019ff"/><path d="M98 12.8l2 .2 2 .9 11.4 9.1 1.6 3.1 12.4 31.9-.5 78 .8 53-118 0-.1-7 1.1-7 6.8-20 5.6-10 4.6-10 9.2-23 13.1-25.3 13.8-29.7 12.4-21 11.8-18.6 3-2.2 6.2-2.2z" fill="#0033ff"/><path d="M92 24.8l4 .9 12 4.8 2 1.6 7 16.9 4.8 19 .1 5-3.9 26 .1 86-.4 4-99.1 0-.1-6-2.6-9-.6-5 .7-7 2.4-7 7.6-11.9 4-8.7 7.6-22.4 12.4-21.4 16-33.6 7.8-10 5.2-9.7 6-8.5 2-1.9 4.3-1.9z" fill="#004cff"/><path d="M88 36.9l3 .3 11.4 3.8 2.8 2 6.5 13 4.8 17-.5 5-7.7 18-.8 4 .1 40 .6 23 1.9 21-.4 2-2.5 3-84.9 0-.3-8-3.5-10-1.4-6 .2-4 1.9-6 7.8-10.6 4.4-9.4 6.6-22.3 5-8.8 7-10.2 17.1-34.7 2.9-3.7 7.2-6.3 5.8-10.1 4.3-1.9z" fill="#0066ff"/><path d="M82 52.8l3-.6 2 .4 4 2.4 2 2.1 4.8 9.9 2.5 13 .3 6-.9 35 .8 28-.5 15-1.7 20 .6 5-74 0-.8-9-5.7-17 .2-3 1.1-4 1.3-2.3 6-6.7 4.9-10 6-22 1.2-3 4.9-8.2 6.6-8.8 18.4-35 3-3 9.6-4z" fill="#0080ff"/><path d="M78 58.9l3 .1 3 .8 3 1.9 2.2 2.3 3.7 7 2.4 11 1.1 15-.6 22 .2 70-69.1 0-1.1-10-6.1-17 .1-3 .9-3 6.9-8 5-10 1.7-5 4.4-18 2.3-5.1 4-6.1 3.5-3.8 2.5-3.7 10-19.3 8-12.6 2-2.7 2-1.6 4.5-1.1z" fill="#0099ff"/><path d="M76 62.9l3 .1 3 .9 3 2.1 2.5 3 3.1 7 2.1 12 .7 10-1.3 50 1.2 19 .5 22-65.1 0-1.5-11-6-16-.2-2 .7-3 6.5-8 5.4-11 1.7-5 4.2-18 2.3-5 3.2-4.9 5.6-6.1 8.7-17 5.7-9.3 6-7.1 2-1.5 2.8-1.1z" fill="#00b2ff"/><path d="M74 66.9l3-.4 3 .7 3 2.1 2.4 2.7 2.5 6 2.7 14 .3 6-.7 29-1.1 21 1.9 22 .7 19-61.2 0-2-12-5.5-15 0-4 1-2 5.4-7 5.2-11 1.6-5 4.2-18 1.7-4 3.9-5.9 3-2.3 2-2.5 8.8-17.3 5.2-8.3 4-4.4 4.8-3.3z" fill="#00ccff"/><path d="M74 69.9l3 0 2 .8 3 2.4 2 2.4 1.3 3.5 3.2 15-.7 30-1.4 24 2.6 25 .8 16-57.4 0-2.2-12-5.2-15 0-4 5.6-9 5.3-12 5.4-22 1.7-4 3-4.5 4-2.8 1-1.3 9-18 6-9 3-3 4.5-2.4z" fill="#00e5ff"/><path d="M73 72.8l2 0 2 .7 3 2 2 2.3 4.4 16.2-.7 25-1.6 29 3.7 41-53.1 0-1.3-4-1.4-8-4.9-15 .1-4 4.1-8 5.5-13 5.3-22 1.2-3 3.6-5 3.1-1.7 1.2-1.3 5.8-12.2 6-10.5 5-6.1 4.4-2.2z" fill="#00ffff"/><path d="M71 75.8l4 .1 4.3 3.1 2.3 5 2.7 10-.4 18-1.9 35 2 28 1.7 14-48.3 0-7.3-24-.9-4 .2-3 8.6-22 5.7-23 3.3-4.5 3-1.6 2-2.4 5.8-12.5 5.2-8.9 5-5.7 2.4-1.4z" fill="#00ffe5"/><path d="M70 78.6l2-.4 2 .3 3.4 2.5 2.7 5 2.1 8-.1 17-1.9 20-.3 10 1.4 34 2.4 14-43.9 0-.6-5-4.7-12-2.5-8-.7-4 .5-4 7.1-20 5.6-23 2.5-3 3-1.6 1.4-1.4 9.6-19.1 4-5.3 4.2-3.6z" fill="#00ffcc"/><path d="M69 81.6l2-.6 2 .2 3 2.2 3 5.5 1.2 5.1 0 18-1.9 16-.7 11 1.2 35 1.3 9 1.7 6-40.2 0-.6-7-3.7-9-3.4-11-.5-4 .6-4 5.9-18 5.1-22.1 2-2.6 4.2-2.3 9.8-19.3 3-4 4.3-3.7z" fill="#00ffb3"/><path d="M70 83.8l3 .6 2 1.9 2.2 3.7 1 4 .3 18-3 26 .8 11 .1 20 2 14 1.7 6-37.1 0-.2-8-7.1-22-.3-3 .5-3 4.6-16 5.5-23 1-1.3 4-1.1 11-21.6 3-3.4 4.2-2.6z" fill="#00ff99"/><path d="M68 87l3-.1 2 1.5 2.1 2.6 1.1 4 .8 16-3.4 26 .6 12-.5 14 3.4 21 1.5 5-34.5 0 .1-10-1.1-11-1.5-4-3.5-6-.7-3 5.8-26 2.8-11.6 1-2.1 1-.2 2 .9 1.5-1 2.7-8 5.8-11.7 4-5.8 3.9-2.5z" fill="#00ff80"/><path d="M67 89.9l3 .1 2.6 2 1.4 3 .8 5 .5 13-3.5 24 0 11-1 11 .4 4 6.1 26-32.4 0-.3-5 1.4-4.9 2-2.7 4.3-3.4 .9-3-1.3-3-7.9-6.6-2.8-3.4-.9-2 .3-7 3.1-18 3.3-11.3 5.2-2.7 2.5-8 4.3-8.8 4-6.3 2-2 1.7-.9z" fill="#00ff66"/><path d="M66 93l3 0 2 1.7 1.4 3.3 1.1 6 .3 7-.7 9-2.9 17-1.2 10.7-2.3 10.3 .6 3 3.5 7 1.4 4 4 17-30.6 0-.3-5 1.1-3 1.6-2 7-5.3 1.3-2.7 .2-3-.5-3-1.3-2-8.5-6-2.8-4-.6-3 0-5 1.6-15 3.3-10 5.5-4 1.9-7 2.9-5.8 4-6.5 4-3.7z" fill="#00ff4d"/><path d="M65 96.7l2-.5 2 .9 2.3 4.9 .9 9-.8 12-4.1 20-2.3 6.7-4 5.9-2 1.2-3 .2-6-2.2-2.2-1.8-1.8-3-1.5-9 .5-10 3-9.4 1.3-1.6 4-3 3.7-10 4-6.3 3.5-3.7zM62 164.6l2-.2 2 .9 2 1.7 2 2.9 2.6 7.1 2.6 12-29 0-.3-4 1.1-3.3 2-2 8-5.7 3-7.4 1.4-1.6z" fill="#00ff33"/><path d="M65 100l2 .1 1 .7 1.3 2.2 .9 3 .4 11-1.1 9-3.6 14-2.9 6.1-2 3-2 1.8-2 .9-3 .1-2-.8-2-1.7-3-5.8-1.1-4.6 0-9 3-8 4.4-4 1.4-2 2.3-7.2 5-6.6 3-2.2zM63 168l3 .2 3 3.1 2.8 6.7 2.4 11-27.4 0-.3-4 1.4-3 3.1-2.7 6.7-4.3 3.3-5.4 2-1.6z" fill="#00ff19"/><path d="M64 103.9l2-.1 1 .8 1.4 3.4 .7 10-.8 7-4.8 15-5 6-1.5 1-2 .3-3-1.9-4-5.1-1.2-5.3 0-5 3.2-7.7 5-5.3 3-7.8 5.8-5.2zM63 170.8l1-.4 2 .4 3 3.4 2.1 4.8 2.3 10-26 0-.3-4 .9-2 4-3.6 7.3-4.4 3.4-4z" fill="#00ff00"/><path d="M63 107.8l2 .3 1 1.3 .8 2.6 .7 6-.8 7-2.7 8.3-2.2 4.7-3.8 3.6-3 .7-3-1.3-2.7-3-1.5-5 0-3 3-7 4.7-5 2.9-7 1.6-1.8 2.5-1.2zM65 173l2 1.1 2.7 3.9 2.8 11-24.5 0 0-4.6 3-3.4 12-7.7 1.7-.3z" fill="#1aff00"/><path d="M61 111.5l1-.3 1.8 .8 1.3 3 .4 5-1 6-2.2 6-2.3 4.1-3 2.2-3 .2-2-1-1.9-2.5-1-3 .1-2 2.6-6 4.4-5 4.1-7zM64 174.9l3 1.3 2 2.6 2.7 10.2-23.1 0-.1-4 3.3-4 5.2-3.1 6.8-2.9z" fill="#33ff00"/><path d="M60 117.7l1-.6 1 .5 .6 2.4-.2 4-1 4-1.4 3.2-2 2.6-2 1.1-2-.1-1.3-.8-1.2-2 .2-4 2.3-4.2 5.8-5.8zM62 176.7l3 0 3 2.5 1.6 3.8 1.3 6-21.6 0 0-4 2.2-3 5.5-3.4 4.2-1.6z" fill="#4cff00"/><path d="M61 178l3.1 0 3.1 2 1.8 3.7 1 5.3-20.1 0 .1-3.7 2.3-3.3 5.3-3 3.2-1z" fill="#66ff00"/><path d="M60 179l4 .4 2.4 1.6 1.8 3 .8 5-18.2 0-.2-3 2.4-3.8 7-3.2z" fill="#80ff00"/><path d="M57 180.9l4-.8 4 1.5 2 2.5 .8 4.9-15.9 0-.4-2 1-3 1.5-1.6 2.8-1.4z" fill="#99ff00"/><path d="M58 181.8l3-.1 3 1.4 2 2.9 .1 3-12.7 0-.6-2 .4-2 1.6-2 2.3-1z" fill="#b3ff00"/><path d="M56 184.6l2-.5 3 .9 1.5 2-.4 2-5.5 0-1.5-2 .5-2z" fill="#ccff00"/><path d="M24.9 189l-.8-9-5.7-17 .2-3 1.4-4.8 7-8.2 4.9-10 6-22 1.2-3 4.9-8.2 6.6-8.8 18.4-35.1 3-2.9 10-4.2 3-.6 2 .4 4 2.4 2.6 3 4.2 9 2.6 14-.7 39 .8 29-.5 15-1.7 20 .6 5M34.7 189l-1.3-4-1.4-8-4.9-15 .1-4 4.1-8 5.5-13 5.3-22 1.2-3 3.6-5 3.1-1.7 1.2-1.3 8.8-17.9 6-8.7 3-2.9 5-1.8 4 1.4 4 3.7 4.4 16.2-.7 25-1.6 29 3.7 41M44.1 189l.1-10-1.1-11-1.5-4-3.5-6-.7-3 7.9-35 1.7-4.7 1-.2 2 .9 1.5-1 4.5-11.9 7-12.5 3-2.7 4-1.2 2 .8 3 3.3 .9 2.2 .5 4 .5 15-3.4 26 .7 11-.5 14 3.4 21 1.5 5M47.4 189l-.3-4 .9-2 4-3.6 7.3-4.4 2.7-3.4 2-1.2 3 1.1 3 4.5 1.1 3 2.3 10M64 103.9l2-.1 1 .8 1.4 3.4 .7 10-.8 7-4.8 15-5 6-1.5 1-2 .3-3-1.9-4-5.1-1.2-5.3 0-5 3.2-7.7 5-5.3 3-7.8 5.8-5.2M50.8 189l-.2-3 2.4-3.8 5-2.6 3-.7 3 .5 3 2.2 1.4 3.4 .6 4" fill="none" stroke="#333" stroke-width="0.9"/><line x1="116.2" y1="147.6" x2="145.9" y2="114.4" stroke="#40a8ff" stroke-width="2.0" stroke-opacity="0.15"/><path d="M0.8 188.8 L60.7 53.8 L58.4 52.8 L-2.3 187.4 Z" fill="#444444"/><path d="M60.3 53.7 L73.8 23.5 L72.3 22.8 L58.8 53.0 Z" fill="#2a7dff"/><path d="M74.3 23.7 L84.5 0.8 L82.1 -0.2 L71.9 22.6 Z" fill="#3a6a8a"/><line x1="0.9" y1="184.4" x2="59.2" y2="54.1" stroke="#40c8d0" stroke-width="0.8" stroke-dasharray="3 3"/><line x1="73.4" y1="22.4" x2="83.3" y2="0.3" stroke="#30e0ff" stroke-width="0.9" stroke-dasharray="3 1"/></svg>
<svg style="left:440px;top:422px" width="191" height="188"><rect x="0.5" y="0.5" width="190" height="187" fill="none" stroke="#111" stroke-width="1"/><path d="M0.5 188v2M17.5 188v4M33.5 188v2M50.5 188v4M66.5 188v2M83.5 188v4M99.5 188v2M116.5 188v4M132.5 188v2M149.5 188v4M165.5 188v2M182.5 188v4" stroke="#222" stroke-width="1" fill="none"/></svg>
<div class="lb" style="left:442.7px;top:423.8px;width:26.3px;height:15.5px">(I)</div>
<div class="t" style="left:457.39px;top:616.4px;width:20px;margin-left:-10px;text-align:center">300</div><div class="t" style="left:490.34px;top:616.4px;width:20px;margin-left:-10px;text-align:center">400</div><div class="t" style="left:523.28px;top:616.4px;width:20px;margin-left:-10px;text-align:center">500</div><div class="t" style="left:556.22px;top:616.4px;width:20px;margin-left:-10px;text-align:center">600</div><div class="t" style="left:589.16px;top:616.4px;width:20px;margin-left:-10px;text-align:center">700</div><div class="t" style="left:622.11px;top:616.4px;width:20px;margin-left:-10px;text-align:center">800</div>
<svg style="left:636px;top:6px" width="15" height="182"><defs><linearGradient id="g6" x1="0" y1="1" x2="0" y2="0"><stop offset="0" stop-color="#0000ff"/><stop offset="0.03" stop-color="#0019ff"/><stop offset="0.05" stop-color="#0033ff"/><stop offset="0.07" stop-color="#004cff"/><stop offset="0.1" stop-color="#0066ff"/><stop offset="0.12" stop-color="#0080ff"/><stop offset="0.15" stop-color="#0099ff"/><stop offset="0.17" stop-color="#00b2ff"/><stop offset="0.2" stop-color="#00ccff"/><stop offset="0.23" stop-color="#00e5ff"/><stop offset="0.25" stop-color="#00ffff"/><stop offset="0.28" stop-color="#00ffe5"/><stop offset="0.3" stop-color="#00ffcc"/><stop offset="0.33" stop-color="#00ffb3"/><stop offset="0.35" stop-color="#00ff99"/><stop offset="0.38" stop-color="#00ff80"/><stop offset="0.4" stop-color="#00ff66"/><stop offset="0.42" stop-color="#00ff4d"/><stop offset="0.45" stop-color="#00ff33"/><stop offset="0.47" stop-color="#00ff19"/><stop offset="0.5" stop-color="#00ff00"/><stop offset="0.53" stop-color="#1aff00"/><stop offset="0.55" stop-color="#33ff00"/><stop offset="0.57" stop-color="#4cff00"/><stop offset="0.6" stop-color="#66ff00"/><stop offset="0.62" stop-color="#80ff00"/><stop offset="0.65" stop-color="#99ff00"/><stop offset="0.68" stop-color="#b3ff00"/><stop offset="0.7" stop-color="#ccff00"/><stop offset="0.72" stop-color="#e6ff00"/><stop offset="0.75" stop-color="#ffff00"/><stop offset="0.78" stop-color="#ffe500"/><stop offset="0.8" stop-color="#ffcc00"/><stop offset="0.82" stop-color="#ffb300"/><stop offset="0.85" stop-color="#ff9900"/><stop offset="0.88" stop-color="#ff8000"/><stop offset="0.9" stop-color="#ff6600"/><stop offset="0.93" stop-color="#ff4c00"/><stop offset="0.95" stop-color="#ff3300"/><stop offset="0.97" stop-color="#ff1a00"/><stop offset="1" stop-color="#ff0000"/></linearGradient></defs><rect x="0.5" y="0.5" width="14" height="181" fill="url(#g6)" stroke="#222" stroke-width="1"/><path d="M15 181.5h3M15 158.5h3M15 136.5h3M15 113.5h3M15 90.5h3M15 68.5h3M15 45.5h3M15 23.5h3M15 0.5h3" stroke="#222" stroke-width="1"/></svg>
<div class="t" style="left:657.6px;top:183.3px">0</div><div class="t" style="left:657.6px;top:160.68px">1250</div><div class="t" style="left:657.6px;top:138.05px">2500</div><div class="t" style="left:657.6px;top:115.42px">3750</div><div class="t" style="left:657.6px;top:92.8px">5000</div><div class="t" style="left:657.6px;top:70.17px">6250</div><div class="t" style="left:657.6px;top:47.55px">7500</div><div class="t" style="left:657.6px;top:24.93px">8750</div><div class="t" style="left:657.6px;top:2.3px">10000</div>
<svg style="left:638px;top:214px" width="14" height="182"><defs><linearGradient id="g214" x1="0" y1="1" x2="0" y2="0"><stop offset="0" stop-color="#0000ff"/><stop offset="0.03" stop-color="#0019ff"/><stop offset="0.05" stop-color="#0033ff"/><stop offset="0.07" stop-color="#004cff"/><stop offset="0.1" stop-color="#0066ff"/><stop offset="0.12" stop-color="#0080ff"/><stop offset="0.15" stop-color="#0099ff"/><stop offset="0.17" stop-color="#00b2ff"/><stop offset="0.2" stop-color="#00ccff"/><stop offset="0.23" stop-color="#00e5ff"/><stop offset="0.25" stop-color="#00ffff"/><stop offset="0.28" stop-color="#00ffe5"/><stop offset="0.3" stop-color="#00ffcc"/><stop offset="0.33" stop-color="#00ffb3"/><stop offset="0.35" stop-color="#00ff99"/><stop offset="0.38" stop-color="#00ff80"/><stop offset="0.4" stop-color="#00ff66"/><stop offset="0.42" stop-color="#00ff4d"/><stop offset="0.45" stop-color="#00ff33"/><stop offset="0.47" stop-color="#00ff19"/><stop offset="0.5" stop-color="#00ff00"/><stop offset="0.53" stop-color="#1aff00"/><stop offset="0.55" stop-color="#33ff00"/><stop offset="0.57" stop-color="#4cff00"/><stop offset="0.6" stop-color="#66ff00"/><stop offset="0.62" stop-color="#80ff00"/><stop offset="0.65" stop-color="#99ff00"/><stop offset="0.68" stop-color="#b3ff00"/><stop offset="0.7" stop-color="#ccff00"/><stop offset="0.72" stop-color="#e6ff00"/><stop offset="0.75" stop-color="#ffff00"/><stop offset="0.78" stop-color="#ffe500"/><stop offset="0.8" stop-color="#ffcc00"/><stop offset="0.82" stop-color="#ffb300"/><stop offset="0.85" stop-color="#ff9900"/><stop offset="0.88" stop-color="#ff8000"/><stop offset="0.9" stop-color="#ff6600"/><stop offset="0.93" stop-color="#ff4c00"/><stop offset="0.95" stop-color="#ff3300"/><stop offset="0.97" stop-color="#ff1a00"/><stop offset="1" stop-color="#ff0000"/></linearGradient></defs><rect x="0.5" y="0.5" width="13" height="181" fill="url(#g214)" stroke="#222" stroke-width="1"/><path d="M14 181.5h3M14 158.5h3M14 136.5h3M14 113.5h3M14 90.5h3M14 68.5h3M14 45.5h3M14 23.5h3M14 0.5h3" stroke="#222" stroke-width="1"/></svg>
<div class="t" style="left:658.6px;top:391.3px">0</div><div class="t" style="left:658.6px;top:368.68px">1250</div><div class="t" style="left:658.6px;top:346.05px">2500</div><div class="t" style="left:658.6px;top:323.43px">3750</div><div class="t" style="left:658.6px;top:300.8px">5000</div><div class="t" style="left:658.6px;top:278.18px">6250</div><div class="t" style="left:658.6px;top:255.55px">7500</div><div class="t" style="left:658.6px;top:232.93px">8750</div><div class="t" style="left:658.6px;top:210.3px">10000</div>
<svg style="left:637px;top:422px" width="15" height="189"><defs><linearGradient id="g422" x1="0" y1="1" x2="0" y2="0"><stop offset="0" stop-color="#0000ff"/><stop offset="0.03" stop-color="#0019ff"/><stop offset="0.05" stop-color="#0033ff"/><stop offset="0.07" stop-color="#004cff"/><stop offset="0.1" stop-color="#0066ff"/><stop offset="0.12" stop-color="#0080ff"/><stop offset="0.15" stop-color="#0099ff"/><stop offset="0.17" stop-color="#00b2ff"/><stop offset="0.2" stop-color="#00ccff"/><stop offset="0.23" stop-color="#00e5ff"/><stop offset="0.25" stop-color="#00ffff"/><stop offset="0.28" stop-color="#00ffe5"/><stop offset="0.3" stop-color="#00ffcc"/><stop offset="0.33" stop-color="#00ffb3"/><stop offset="0.35" stop-color="#00ff99"/><stop offset="0.38" stop-color="#00ff80"/><stop offset="0.4" stop-color="#00ff66"/><stop offset="0.42" stop-color="#00ff4d"/><stop offset="0.45" stop-color="#00ff33"/><stop offset="0.47" stop-color="#00ff19"/><stop offset="0.5" stop-color="#00ff00"/><stop offset="0.53" stop-color="#1aff00"/><stop offset="0.55" stop-color="#33ff00"/><stop offset="0.57" stop-color="#4cff00"/><stop offset="0.6" stop-color="#66ff00"/><stop offset="0.62" stop-color="#80ff00"/><stop offset="0.65" stop-color="#99ff00"/><stop offset="0.68" stop-color="#b3ff00"/><stop offset="0.7" stop-color="#ccff00"/><stop offset="0.72" stop-color="#e6ff00"/><stop offset="0.75" stop-color="#ffff00"/><stop offset="0.78" stop-color="#ffe500"/><stop offset="0.8" stop-color="#ffcc00"/><stop offset="0.82" stop-color="#ffb300"/><stop offset="0.85" stop-color="#ff9900"/><stop offset="0.88" stop-color="#ff8000"/><stop offset="0.9" stop-color="#ff6600"/><stop offset="0.93" stop-color="#ff4c00"/><stop offset="0.95" stop-color="#ff3300"/><stop offset="0.97" stop-color="#ff1a00"/><stop offset="1" stop-color="#ff0000"/></linearGradient></defs><rect x="0.5" y="0.5" width="14" height="188" fill="url(#g422)" stroke="#222" stroke-width="1"/><path d="M15 188.5h3M15 164.5h3M15 141.5h3M15 118.5h3M15 94.5h3M15 70.5h3M15 47.5h3M15 24.5h3M15 0.5h3" stroke="#222" stroke-width="1"/></svg>
<div class="t" style="left:658.6px;top:606.3px">0</div><div class="t" style="left:658.6px;top:582.8px">1250</div><div class="t" style="left:658.6px;top:559.3px">2500</div><div class="t" style="left:658.6px;top:535.8px">3750</div><div class="t" style="left:658.6px;top:512.3px">5000</div><div class="t" style="left:658.6px;top:488.8px">6250</div><div class="t" style="left:658.6px;top:465.3px">7500</div><div class="t" style="left:658.6px;top:441.8px">8750</div><div class="t" style="left:658.6px;top:418.3px">10000</div>
<div class="ax" style="left:-2.5px;top:115px;transform:rotate(-90deg);transform-origin:0 0"><i>&#955;</i><sub style="text-decoration:none">ex</sub>(nm)</div>
<div class="ax" style="left:-2.5px;top:324px;transform:rotate(-90deg);transform-origin:0 0"><i>&#955;</i><sub style="text-decoration:none">ex</sub>(nm)</div>
<div class="ax" style="left:-2.5px;top:533px;transform:rotate(-90deg);transform-origin:0 0"><i>&#955;</i><sub style="text-decoration:none">ex</sub>(nm)</div>
<div class="ax" style="left:109px;top:627px"><i>&#955;</i><sub>em</sub>(nm)</div>
<div class="ax" style="left:307px;top:626px"><i>&#955;</i><sub>em</sub>(nm)</div>
<div class="ax" style="left:505px;top:634.5px"><i>&#955;</i><sub>em</sub>(nm)</div>
</body></html>
